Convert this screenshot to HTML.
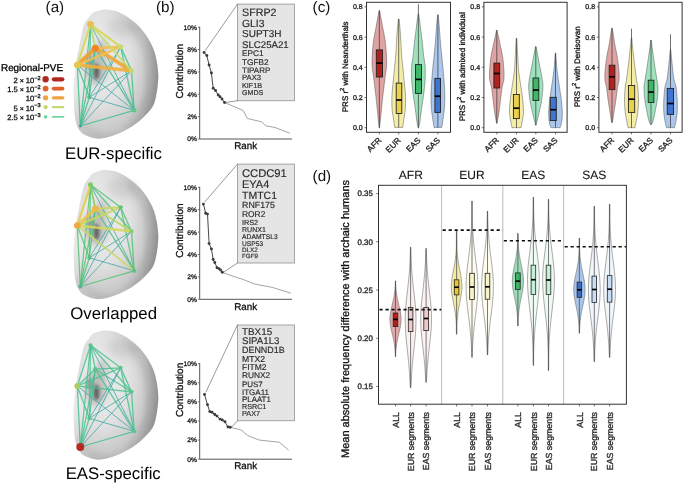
<!DOCTYPE html>
<html><head><meta charset="utf-8"><style>
html,body{margin:0;padding:0;background:#fff;}
svg{display:block;font-family:"Liberation Sans", sans-serif;}
</style></head><body>
<svg width="685" height="484" viewBox="0 0 685 484" text-rendering="geometricPrecision" style="will-change:transform">
<rect width="685" height="484" fill="#fff"/>
<text x="45.60" y="11.70" font-size="15.2" text-anchor="start" fill="#111" >(a)</text>
<text x="156.00" y="11.70" font-size="15.2" text-anchor="start" fill="#111" >(b)</text>
<text x="312.60" y="11.70" font-size="15.2" text-anchor="start" fill="#111" >(c)</text>
<text x="312.60" y="180.60" font-size="15.2" text-anchor="start" fill="#111" >(d)</text>
<defs><radialGradient id="bgrad" cx="0.32" cy="0.4" fx="0.3" fy="0.36" r="0.8"><stop offset="0" stop-color="#eeeeee"/><stop offset="0.45" stop-color="#e1e1e1"/><stop offset="0.7" stop-color="#c9c9c9"/><stop offset="0.86" stop-color="#adadad"/><stop offset="1" stop-color="#9a9a9a"/></radialGradient><linearGradient id="bgrad2" x1="0" y1="0" x2="1" y2="0"><stop offset="0" stop-color="#fff" stop-opacity="0.25"/><stop offset="0.25" stop-color="#fff" stop-opacity="0"/><stop offset="0.8" stop-color="#000" stop-opacity="0"/><stop offset="1" stop-color="#000" stop-opacity="0.12"/></linearGradient><filter id="blur2" x="-1" y="-1" width="3" height="3"><feGaussianBlur stdDeviation="1.6"/></filter><filter id="blur3" x="-1" y="-1" width="3" height="3"><feGaussianBlur stdDeviation="3"/></filter><filter id="blur5" x="-1" y="-1" width="3" height="3"><feGaussianBlur stdDeviation="5"/></filter><clipPath id="bclip"><path d="M88.5,17.9 C89.23,17.05 90.93,14.08 92.90,12.80 C94.87,11.52 98.10,10.73 100.30,10.20 C102.50,9.67 103.42,9.42 106.10,9.60 C108.78,9.78 112.97,10.15 116.40,11.30 C119.83,12.45 123.28,14.30 126.70,16.50 C130.12,18.70 133.73,21.45 136.90,24.50 C140.07,27.55 143.02,30.88 145.70,34.80 C148.38,38.72 151.17,43.60 153.00,48.00 C154.83,52.40 155.83,56.80 156.70,61.20 C157.57,65.60 158.00,70.77 158.20,74.40 C158.40,78.03 158.22,79.65 157.90,83.00 C157.58,86.35 157.17,90.57 156.30,94.50 C155.43,98.43 155.05,102.62 152.70,106.60 C150.35,110.58 146.15,114.80 142.20,118.40 C138.25,122.00 133.37,125.53 129.00,128.20 C124.63,130.87 120.37,132.72 116.00,134.40 C111.63,136.08 106.53,137.68 102.80,138.30 C99.07,138.92 96.73,138.72 93.60,138.10 C90.47,137.48 86.52,136.12 84.00,134.60 C81.48,133.08 79.87,131.18 78.50,129.00 C77.13,126.82 76.48,124.33 75.80,121.50 C75.12,118.67 74.72,115.70 74.40,112.00 C74.08,108.30 73.98,103.85 73.90,99.30 C73.82,94.75 73.67,89.58 73.90,84.70 C74.13,79.82 74.87,74.12 75.30,70.00 C75.73,65.88 75.88,63.67 76.50,60.00 C77.12,56.33 78.10,52.45 79.00,48.00 C79.90,43.55 80.92,37.45 81.90,33.30 C82.88,29.15 83.80,25.67 84.90,23.10 C86.00,20.53 87.90,18.77 88.50,17.90 Z"/></clipPath></defs>
<g transform="translate(0,0)">
<path d="M88.5,17.9 C89.23,17.05 90.93,14.08 92.90,12.80 C94.87,11.52 98.10,10.73 100.30,10.20 C102.50,9.67 103.42,9.42 106.10,9.60 C108.78,9.78 112.97,10.15 116.40,11.30 C119.83,12.45 123.28,14.30 126.70,16.50 C130.12,18.70 133.73,21.45 136.90,24.50 C140.07,27.55 143.02,30.88 145.70,34.80 C148.38,38.72 151.17,43.60 153.00,48.00 C154.83,52.40 155.83,56.80 156.70,61.20 C157.57,65.60 158.00,70.77 158.20,74.40 C158.40,78.03 158.22,79.65 157.90,83.00 C157.58,86.35 157.17,90.57 156.30,94.50 C155.43,98.43 155.05,102.62 152.70,106.60 C150.35,110.58 146.15,114.80 142.20,118.40 C138.25,122.00 133.37,125.53 129.00,128.20 C124.63,130.87 120.37,132.72 116.00,134.40 C111.63,136.08 106.53,137.68 102.80,138.30 C99.07,138.92 96.73,138.72 93.60,138.10 C90.47,137.48 86.52,136.12 84.00,134.60 C81.48,133.08 79.87,131.18 78.50,129.00 C77.13,126.82 76.48,124.33 75.80,121.50 C75.12,118.67 74.72,115.70 74.40,112.00 C74.08,108.30 73.98,103.85 73.90,99.30 C73.82,94.75 73.67,89.58 73.90,84.70 C74.13,79.82 74.87,74.12 75.30,70.00 C75.73,65.88 75.88,63.67 76.50,60.00 C77.12,56.33 78.10,52.45 79.00,48.00 C79.90,43.55 80.92,37.45 81.90,33.30 C82.88,29.15 83.80,25.67 84.90,23.10 C86.00,20.53 87.90,18.77 88.50,17.90 Z" fill="url(#bgrad)"/>
<path d="M88.5,17.9 C89.23,17.05 90.93,14.08 92.90,12.80 C94.87,11.52 98.10,10.73 100.30,10.20 C102.50,9.67 103.42,9.42 106.10,9.60 C108.78,9.78 112.97,10.15 116.40,11.30 C119.83,12.45 123.28,14.30 126.70,16.50 C130.12,18.70 133.73,21.45 136.90,24.50 C140.07,27.55 143.02,30.88 145.70,34.80 C148.38,38.72 151.17,43.60 153.00,48.00 C154.83,52.40 155.83,56.80 156.70,61.20 C157.57,65.60 158.00,70.77 158.20,74.40 C158.40,78.03 158.22,79.65 157.90,83.00 C157.58,86.35 157.17,90.57 156.30,94.50 C155.43,98.43 155.05,102.62 152.70,106.60 C150.35,110.58 146.15,114.80 142.20,118.40 C138.25,122.00 133.37,125.53 129.00,128.20 C124.63,130.87 120.37,132.72 116.00,134.40 C111.63,136.08 106.53,137.68 102.80,138.30 C99.07,138.92 96.73,138.72 93.60,138.10 C90.47,137.48 86.52,136.12 84.00,134.60 C81.48,133.08 79.87,131.18 78.50,129.00 C77.13,126.82 76.48,124.33 75.80,121.50 C75.12,118.67 74.72,115.70 74.40,112.00 C74.08,108.30 73.98,103.85 73.90,99.30 C73.82,94.75 73.67,89.58 73.90,84.70 C74.13,79.82 74.87,74.12 75.30,70.00 C75.73,65.88 75.88,63.67 76.50,60.00 C77.12,56.33 78.10,52.45 79.00,48.00 C79.90,43.55 80.92,37.45 81.90,33.30 C82.88,29.15 83.80,25.67 84.90,23.10 C86.00,20.53 87.90,18.77 88.50,17.90 Z" fill="url(#bgrad2)"/>
<g clip-path="url(#bclip)">
<ellipse cx="124" cy="26" rx="16" ry="11" fill="#8a8a8a" opacity="0.22" filter="url(#blur5)"/>
<path d="M140,20 Q160,45 160,78 Q158,110 130,134" fill="none" stroke="#7a7a7a" stroke-width="9" opacity="0.35" filter="url(#blur5)"/>
<path d="M78,118 Q90,140 118,138" fill="none" stroke="#8a8a8a" stroke-width="5" opacity="0.25" filter="url(#blur3)"/>
<path d="M86,20 Q78,40 77,60" fill="none" stroke="#9a9a9a" stroke-width="4" opacity="0.3" filter="url(#blur3)"/>
</g>
<ellipse cx="96" cy="67" rx="11" ry="17" fill="#858585" opacity="0.45" filter="url(#blur3)"/>
<ellipse cx="96.5" cy="71.5" rx="3.0" ry="8" fill="#505050" opacity="0.8" filter="url(#blur2)"/>
<ellipse cx="90" cy="63" rx="4" ry="6" fill="#777" opacity="0.45" filter="url(#blur2)"/>
<ellipse cx="102" cy="48" rx="6" ry="9" fill="#888" opacity="0.38" filter="url(#blur3)"/>
<path d="M128,22 Q146,40 150,70 Q150,95 140,112" fill="none" stroke="#999" stroke-width="5" opacity="0.35" filter="url(#blur3)"/>
<line x1="90.5" y1="24.3" x2="89.3" y2="97.3" stroke="#3fc08a" stroke-width="1.3" opacity="0.82"/>
<line x1="90.5" y1="24.3" x2="134.2" y2="110.3" stroke="#3fa8a4" stroke-width="1.0" opacity="0.8"/>
<line x1="90.5" y1="24.3" x2="80.3" y2="126" stroke="#3fc08a" stroke-width="1.3" opacity="0.82"/>
<line x1="95.3" y1="48.2" x2="89.3" y2="97.3" stroke="#3fc08a" stroke-width="1.3" opacity="0.82"/>
<line x1="95.3" y1="48.2" x2="134.2" y2="110.3" stroke="#3fc08a" stroke-width="1.3" opacity="0.82"/>
<line x1="95.3" y1="48.2" x2="80.3" y2="126" stroke="#3fc08a" stroke-width="1.3" opacity="0.82"/>
<line x1="120.7" y1="46.8" x2="131.5" y2="70.8" stroke="#3fc08a" stroke-width="1.3" opacity="0.82"/>
<line x1="120.7" y1="46.8" x2="89.3" y2="97.3" stroke="#3fa8a4" stroke-width="1.0" opacity="0.8"/>
<line x1="120.7" y1="46.8" x2="134.2" y2="110.3" stroke="#3fc08a" stroke-width="1.3" opacity="0.82"/>
<line x1="120.7" y1="46.8" x2="80.3" y2="126" stroke="#3fa8a4" stroke-width="1.0" opacity="0.8"/>
<line x1="77.3" y1="65" x2="89.3" y2="97.3" stroke="#3fc08a" stroke-width="1.3" opacity="0.82"/>
<line x1="77.3" y1="65" x2="134.2" y2="110.3" stroke="#3fa8a4" stroke-width="1.0" opacity="0.8"/>
<line x1="77.3" y1="65" x2="80.3" y2="126" stroke="#3fc08a" stroke-width="1.3" opacity="0.82"/>
<line x1="131.5" y1="70.8" x2="89.3" y2="97.3" stroke="#3fa8a4" stroke-width="1.0" opacity="0.8"/>
<line x1="131.5" y1="70.8" x2="134.2" y2="110.3" stroke="#3fc08a" stroke-width="1.3" opacity="0.82"/>
<line x1="131.5" y1="70.8" x2="80.3" y2="126" stroke="#3fa8a4" stroke-width="1.0" opacity="0.8"/>
<line x1="89.3" y1="97.3" x2="134.2" y2="110.3" stroke="#3fa8a4" stroke-width="1.0" opacity="0.8"/>
<line x1="89.3" y1="97.3" x2="80.3" y2="126" stroke="#3fc08a" stroke-width="1.3" opacity="0.82"/>
<line x1="134.2" y1="110.3" x2="80.3" y2="126" stroke="#3fc08a" stroke-width="1.3" opacity="0.82"/>
<line x1="95.3" y1="48.2" x2="77.3" y2="65" stroke="#f0a030" stroke-width="4.0" stroke-linecap="round" opacity="0.9"/>
<line x1="95.3" y1="48.2" x2="131.5" y2="70.8" stroke="#f0a838" stroke-width="3.8" stroke-linecap="round" opacity="0.9"/>
<line x1="77.3" y1="65" x2="131.5" y2="70.8" stroke="#f0b040" stroke-width="3.4" stroke-linecap="round" opacity="0.9"/>
<line x1="95.3" y1="48.2" x2="120.7" y2="46.8" stroke="#f2be48" stroke-width="2.8" stroke-linecap="round" opacity="0.9"/>
<line x1="120.7" y1="46.8" x2="77.3" y2="65" stroke="#f0c050" stroke-width="2.4" stroke-linecap="round" opacity="0.9"/>
<line x1="90.5" y1="24.3" x2="77.3" y2="65" stroke="#d8d858" stroke-width="2.2" stroke-linecap="round" opacity="0.9"/>
<line x1="90.5" y1="24.3" x2="120.7" y2="46.8" stroke="#d8d858" stroke-width="2.2" stroke-linecap="round" opacity="0.9"/>
<line x1="90.5" y1="24.3" x2="95.3" y2="48.2" stroke="#bcd870" stroke-width="1.8" stroke-linecap="round" opacity="0.9"/>
<line x1="90.5" y1="24.3" x2="131.5" y2="70.8" stroke="#c8dc68" stroke-width="1.8" stroke-linecap="round" opacity="0.9"/>
<circle cx="90.5" cy="24.3" r="3.3" fill="#e8c050"/>
<circle cx="95.3" cy="48.2" r="3.5" fill="#f08228"/>
<circle cx="120.7" cy="46.8" r="2.6" fill="#c8d878"/>
<circle cx="77.3" cy="65" r="3.3" fill="#e6c64c"/>
<circle cx="131.5" cy="70.8" r="2.6" fill="#c4d870"/>
<circle cx="89.3" cy="97.3" r="2.0" fill="#52bb84"/>
<circle cx="134.2" cy="110.3" r="2.3" fill="#5cc888"/>
<circle cx="80.3" cy="126" r="1.6" fill="#44a8a0"/>
</g>
<g transform="translate(0,160.5)">
<path d="M88.5,17.9 C89.23,17.05 90.93,14.08 92.90,12.80 C94.87,11.52 98.10,10.73 100.30,10.20 C102.50,9.67 103.42,9.42 106.10,9.60 C108.78,9.78 112.97,10.15 116.40,11.30 C119.83,12.45 123.28,14.30 126.70,16.50 C130.12,18.70 133.73,21.45 136.90,24.50 C140.07,27.55 143.02,30.88 145.70,34.80 C148.38,38.72 151.17,43.60 153.00,48.00 C154.83,52.40 155.83,56.80 156.70,61.20 C157.57,65.60 158.00,70.77 158.20,74.40 C158.40,78.03 158.22,79.65 157.90,83.00 C157.58,86.35 157.17,90.57 156.30,94.50 C155.43,98.43 155.05,102.62 152.70,106.60 C150.35,110.58 146.15,114.80 142.20,118.40 C138.25,122.00 133.37,125.53 129.00,128.20 C124.63,130.87 120.37,132.72 116.00,134.40 C111.63,136.08 106.53,137.68 102.80,138.30 C99.07,138.92 96.73,138.72 93.60,138.10 C90.47,137.48 86.52,136.12 84.00,134.60 C81.48,133.08 79.87,131.18 78.50,129.00 C77.13,126.82 76.48,124.33 75.80,121.50 C75.12,118.67 74.72,115.70 74.40,112.00 C74.08,108.30 73.98,103.85 73.90,99.30 C73.82,94.75 73.67,89.58 73.90,84.70 C74.13,79.82 74.87,74.12 75.30,70.00 C75.73,65.88 75.88,63.67 76.50,60.00 C77.12,56.33 78.10,52.45 79.00,48.00 C79.90,43.55 80.92,37.45 81.90,33.30 C82.88,29.15 83.80,25.67 84.90,23.10 C86.00,20.53 87.90,18.77 88.50,17.90 Z" fill="url(#bgrad)"/>
<path d="M88.5,17.9 C89.23,17.05 90.93,14.08 92.90,12.80 C94.87,11.52 98.10,10.73 100.30,10.20 C102.50,9.67 103.42,9.42 106.10,9.60 C108.78,9.78 112.97,10.15 116.40,11.30 C119.83,12.45 123.28,14.30 126.70,16.50 C130.12,18.70 133.73,21.45 136.90,24.50 C140.07,27.55 143.02,30.88 145.70,34.80 C148.38,38.72 151.17,43.60 153.00,48.00 C154.83,52.40 155.83,56.80 156.70,61.20 C157.57,65.60 158.00,70.77 158.20,74.40 C158.40,78.03 158.22,79.65 157.90,83.00 C157.58,86.35 157.17,90.57 156.30,94.50 C155.43,98.43 155.05,102.62 152.70,106.60 C150.35,110.58 146.15,114.80 142.20,118.40 C138.25,122.00 133.37,125.53 129.00,128.20 C124.63,130.87 120.37,132.72 116.00,134.40 C111.63,136.08 106.53,137.68 102.80,138.30 C99.07,138.92 96.73,138.72 93.60,138.10 C90.47,137.48 86.52,136.12 84.00,134.60 C81.48,133.08 79.87,131.18 78.50,129.00 C77.13,126.82 76.48,124.33 75.80,121.50 C75.12,118.67 74.72,115.70 74.40,112.00 C74.08,108.30 73.98,103.85 73.90,99.30 C73.82,94.75 73.67,89.58 73.90,84.70 C74.13,79.82 74.87,74.12 75.30,70.00 C75.73,65.88 75.88,63.67 76.50,60.00 C77.12,56.33 78.10,52.45 79.00,48.00 C79.90,43.55 80.92,37.45 81.90,33.30 C82.88,29.15 83.80,25.67 84.90,23.10 C86.00,20.53 87.90,18.77 88.50,17.90 Z" fill="url(#bgrad2)"/>
<g clip-path="url(#bclip)">
<ellipse cx="124" cy="26" rx="16" ry="11" fill="#8a8a8a" opacity="0.22" filter="url(#blur5)"/>
<path d="M140,20 Q160,45 160,78 Q158,110 130,134" fill="none" stroke="#7a7a7a" stroke-width="9" opacity="0.35" filter="url(#blur5)"/>
<path d="M78,118 Q90,140 118,138" fill="none" stroke="#8a8a8a" stroke-width="5" opacity="0.25" filter="url(#blur3)"/>
<path d="M86,20 Q78,40 77,60" fill="none" stroke="#9a9a9a" stroke-width="4" opacity="0.3" filter="url(#blur3)"/>
</g>
<ellipse cx="96" cy="67" rx="11" ry="17" fill="#858585" opacity="0.45" filter="url(#blur3)"/>
<ellipse cx="96.5" cy="71.5" rx="3.0" ry="8" fill="#505050" opacity="0.8" filter="url(#blur2)"/>
<ellipse cx="90" cy="63" rx="4" ry="6" fill="#777" opacity="0.45" filter="url(#blur2)"/>
<ellipse cx="102" cy="48" rx="6" ry="9" fill="#888" opacity="0.38" filter="url(#blur3)"/>
<path d="M128,22 Q146,40 150,70 Q150,95 140,112" fill="none" stroke="#999" stroke-width="5" opacity="0.35" filter="url(#blur3)"/>
<line x1="90.5" y1="24.3" x2="120.7" y2="46.8" stroke="#52c276" stroke-width="1.3" opacity="0.82"/>
<line x1="90.5" y1="24.3" x2="131.5" y2="70.8" stroke="#52c276" stroke-width="1.3" opacity="0.82"/>
<line x1="90.5" y1="24.3" x2="89.3" y2="97.3" stroke="#52c276" stroke-width="1.3" opacity="0.82"/>
<line x1="90.5" y1="24.3" x2="134.2" y2="110.3" stroke="#3fa8a4" stroke-width="1.0" opacity="0.8"/>
<line x1="90.5" y1="24.3" x2="80.3" y2="126" stroke="#52c276" stroke-width="1.3" opacity="0.82"/>
<line x1="95.3" y1="48.2" x2="89.3" y2="97.3" stroke="#52c276" stroke-width="1.3" opacity="0.82"/>
<line x1="95.3" y1="48.2" x2="134.2" y2="110.3" stroke="#52c276" stroke-width="1.3" opacity="0.82"/>
<line x1="95.3" y1="48.2" x2="80.3" y2="126" stroke="#52c276" stroke-width="1.3" opacity="0.82"/>
<line x1="120.7" y1="46.8" x2="131.5" y2="70.8" stroke="#52c276" stroke-width="1.3" opacity="0.82"/>
<line x1="120.7" y1="46.8" x2="89.3" y2="97.3" stroke="#3fa8a4" stroke-width="1.0" opacity="0.8"/>
<line x1="120.7" y1="46.8" x2="134.2" y2="110.3" stroke="#52c276" stroke-width="1.3" opacity="0.82"/>
<line x1="120.7" y1="46.8" x2="80.3" y2="126" stroke="#3fa8a4" stroke-width="1.0" opacity="0.8"/>
<line x1="77.3" y1="65" x2="89.3" y2="97.3" stroke="#52c276" stroke-width="1.3" opacity="0.82"/>
<line x1="77.3" y1="65" x2="80.3" y2="126" stroke="#52c276" stroke-width="1.3" opacity="0.82"/>
<line x1="131.5" y1="70.8" x2="89.3" y2="97.3" stroke="#3fa8a4" stroke-width="1.0" opacity="0.8"/>
<line x1="131.5" y1="70.8" x2="134.2" y2="110.3" stroke="#52c276" stroke-width="1.3" opacity="0.82"/>
<line x1="131.5" y1="70.8" x2="80.3" y2="126" stroke="#3fa8a4" stroke-width="1.0" opacity="0.8"/>
<line x1="89.3" y1="97.3" x2="134.2" y2="110.3" stroke="#3fa8a4" stroke-width="1.0" opacity="0.8"/>
<line x1="89.3" y1="97.3" x2="80.3" y2="126" stroke="#52c276" stroke-width="1.3" opacity="0.82"/>
<line x1="134.2" y1="110.3" x2="80.3" y2="126" stroke="#52c276" stroke-width="1.3" opacity="0.82"/>
<line x1="90.5" y1="24.3" x2="77.3" y2="65" stroke="#e2d04e" stroke-width="2.4" stroke-linecap="round" opacity="0.9"/>
<line x1="95.3" y1="48.2" x2="77.3" y2="65" stroke="#eec24a" stroke-width="3.0" stroke-linecap="round" opacity="0.9"/>
<line x1="95.3" y1="48.2" x2="120.7" y2="46.8" stroke="#c8d860" stroke-width="2.0" stroke-linecap="round" opacity="0.9"/>
<line x1="120.7" y1="46.8" x2="77.3" y2="65" stroke="#c8d860" stroke-width="1.9" stroke-linecap="round" opacity="0.9"/>
<line x1="77.3" y1="65" x2="131.5" y2="70.8" stroke="#d8d858" stroke-width="2.3" stroke-linecap="round" opacity="0.9"/>
<line x1="95.3" y1="48.2" x2="131.5" y2="70.8" stroke="#c0d860" stroke-width="1.9" stroke-linecap="round" opacity="0.9"/>
<line x1="90.5" y1="24.3" x2="95.3" y2="48.2" stroke="#80c860" stroke-width="1.7" stroke-linecap="round" opacity="0.9"/>
<line x1="77.3" y1="65" x2="134.2" y2="110.3" stroke="#c8d860" stroke-width="1.6" stroke-linecap="round" opacity="0.9"/>
<circle cx="90.5" cy="24.3" r="2.5" fill="#80c860"/>
<circle cx="95.3" cy="48.2" r="3.3" fill="#f0b848"/>
<circle cx="120.7" cy="46.8" r="2.1" fill="#60c484"/>
<circle cx="77.3" cy="65" r="3.3" fill="#eeaa40"/>
<circle cx="131.5" cy="70.8" r="2.1" fill="#8ccc70"/>
<circle cx="89.3" cy="97.3" r="2.1" fill="#58c084"/>
<circle cx="134.2" cy="110.3" r="2.1" fill="#5cc488"/>
<circle cx="80.3" cy="126" r="2.0" fill="#50b890"/>
</g>
<g transform="translate(0,321)">
<path d="M88.5,17.9 C89.23,17.05 90.93,14.08 92.90,12.80 C94.87,11.52 98.10,10.73 100.30,10.20 C102.50,9.67 103.42,9.42 106.10,9.60 C108.78,9.78 112.97,10.15 116.40,11.30 C119.83,12.45 123.28,14.30 126.70,16.50 C130.12,18.70 133.73,21.45 136.90,24.50 C140.07,27.55 143.02,30.88 145.70,34.80 C148.38,38.72 151.17,43.60 153.00,48.00 C154.83,52.40 155.83,56.80 156.70,61.20 C157.57,65.60 158.00,70.77 158.20,74.40 C158.40,78.03 158.22,79.65 157.90,83.00 C157.58,86.35 157.17,90.57 156.30,94.50 C155.43,98.43 155.05,102.62 152.70,106.60 C150.35,110.58 146.15,114.80 142.20,118.40 C138.25,122.00 133.37,125.53 129.00,128.20 C124.63,130.87 120.37,132.72 116.00,134.40 C111.63,136.08 106.53,137.68 102.80,138.30 C99.07,138.92 96.73,138.72 93.60,138.10 C90.47,137.48 86.52,136.12 84.00,134.60 C81.48,133.08 79.87,131.18 78.50,129.00 C77.13,126.82 76.48,124.33 75.80,121.50 C75.12,118.67 74.72,115.70 74.40,112.00 C74.08,108.30 73.98,103.85 73.90,99.30 C73.82,94.75 73.67,89.58 73.90,84.70 C74.13,79.82 74.87,74.12 75.30,70.00 C75.73,65.88 75.88,63.67 76.50,60.00 C77.12,56.33 78.10,52.45 79.00,48.00 C79.90,43.55 80.92,37.45 81.90,33.30 C82.88,29.15 83.80,25.67 84.90,23.10 C86.00,20.53 87.90,18.77 88.50,17.90 Z" fill="url(#bgrad)"/>
<path d="M88.5,17.9 C89.23,17.05 90.93,14.08 92.90,12.80 C94.87,11.52 98.10,10.73 100.30,10.20 C102.50,9.67 103.42,9.42 106.10,9.60 C108.78,9.78 112.97,10.15 116.40,11.30 C119.83,12.45 123.28,14.30 126.70,16.50 C130.12,18.70 133.73,21.45 136.90,24.50 C140.07,27.55 143.02,30.88 145.70,34.80 C148.38,38.72 151.17,43.60 153.00,48.00 C154.83,52.40 155.83,56.80 156.70,61.20 C157.57,65.60 158.00,70.77 158.20,74.40 C158.40,78.03 158.22,79.65 157.90,83.00 C157.58,86.35 157.17,90.57 156.30,94.50 C155.43,98.43 155.05,102.62 152.70,106.60 C150.35,110.58 146.15,114.80 142.20,118.40 C138.25,122.00 133.37,125.53 129.00,128.20 C124.63,130.87 120.37,132.72 116.00,134.40 C111.63,136.08 106.53,137.68 102.80,138.30 C99.07,138.92 96.73,138.72 93.60,138.10 C90.47,137.48 86.52,136.12 84.00,134.60 C81.48,133.08 79.87,131.18 78.50,129.00 C77.13,126.82 76.48,124.33 75.80,121.50 C75.12,118.67 74.72,115.70 74.40,112.00 C74.08,108.30 73.98,103.85 73.90,99.30 C73.82,94.75 73.67,89.58 73.90,84.70 C74.13,79.82 74.87,74.12 75.30,70.00 C75.73,65.88 75.88,63.67 76.50,60.00 C77.12,56.33 78.10,52.45 79.00,48.00 C79.90,43.55 80.92,37.45 81.90,33.30 C82.88,29.15 83.80,25.67 84.90,23.10 C86.00,20.53 87.90,18.77 88.50,17.90 Z" fill="url(#bgrad2)"/>
<g clip-path="url(#bclip)">
<ellipse cx="124" cy="26" rx="16" ry="11" fill="#8a8a8a" opacity="0.22" filter="url(#blur5)"/>
<path d="M140,20 Q160,45 160,78 Q158,110 130,134" fill="none" stroke="#7a7a7a" stroke-width="9" opacity="0.35" filter="url(#blur5)"/>
<path d="M78,118 Q90,140 118,138" fill="none" stroke="#8a8a8a" stroke-width="5" opacity="0.25" filter="url(#blur3)"/>
<path d="M86,20 Q78,40 77,60" fill="none" stroke="#9a9a9a" stroke-width="4" opacity="0.3" filter="url(#blur3)"/>
</g>
<ellipse cx="96" cy="67" rx="11" ry="17" fill="#858585" opacity="0.45" filter="url(#blur3)"/>
<ellipse cx="96.5" cy="71.5" rx="3.0" ry="8" fill="#505050" opacity="0.8" filter="url(#blur2)"/>
<ellipse cx="90" cy="63" rx="4" ry="6" fill="#777" opacity="0.45" filter="url(#blur2)"/>
<ellipse cx="102" cy="48" rx="6" ry="9" fill="#888" opacity="0.38" filter="url(#blur3)"/>
<path d="M128,22 Q146,40 150,70 Q150,95 140,112" fill="none" stroke="#999" stroke-width="5" opacity="0.35" filter="url(#blur3)"/>
<line x1="90.5" y1="24.3" x2="95.3" y2="48.2" stroke="#44c28e" stroke-width="1.3" opacity="0.82"/>
<line x1="90.5" y1="24.3" x2="120.7" y2="46.8" stroke="#44c28e" stroke-width="1.3" opacity="0.82"/>
<line x1="90.5" y1="24.3" x2="77.3" y2="65" stroke="#44c28e" stroke-width="1.3" opacity="0.82"/>
<line x1="90.5" y1="24.3" x2="131.5" y2="70.8" stroke="#44c28e" stroke-width="1.3" opacity="0.82"/>
<line x1="90.5" y1="24.3" x2="89.3" y2="97.3" stroke="#44c28e" stroke-width="1.3" opacity="0.82"/>
<line x1="90.5" y1="24.3" x2="134.2" y2="110.3" stroke="#3fa8a4" stroke-width="1.0" opacity="0.8"/>
<line x1="90.5" y1="24.3" x2="80.3" y2="126" stroke="#44c28e" stroke-width="1.3" opacity="0.82"/>
<line x1="95.3" y1="48.2" x2="120.7" y2="46.8" stroke="#44c28e" stroke-width="1.3" opacity="0.82"/>
<line x1="95.3" y1="48.2" x2="77.3" y2="65" stroke="#44c28e" stroke-width="1.3" opacity="0.82"/>
<line x1="95.3" y1="48.2" x2="131.5" y2="70.8" stroke="#44c28e" stroke-width="1.3" opacity="0.82"/>
<line x1="95.3" y1="48.2" x2="89.3" y2="97.3" stroke="#44c28e" stroke-width="1.3" opacity="0.82"/>
<line x1="95.3" y1="48.2" x2="134.2" y2="110.3" stroke="#44c28e" stroke-width="1.3" opacity="0.82"/>
<line x1="95.3" y1="48.2" x2="80.3" y2="126" stroke="#44c28e" stroke-width="1.3" opacity="0.82"/>
<line x1="120.7" y1="46.8" x2="77.3" y2="65" stroke="#44c28e" stroke-width="1.3" opacity="0.82"/>
<line x1="120.7" y1="46.8" x2="131.5" y2="70.8" stroke="#44c28e" stroke-width="1.3" opacity="0.82"/>
<line x1="120.7" y1="46.8" x2="89.3" y2="97.3" stroke="#3fa8a4" stroke-width="1.0" opacity="0.8"/>
<line x1="120.7" y1="46.8" x2="134.2" y2="110.3" stroke="#44c28e" stroke-width="1.3" opacity="0.82"/>
<line x1="120.7" y1="46.8" x2="80.3" y2="126" stroke="#3fa8a4" stroke-width="1.0" opacity="0.8"/>
<line x1="77.3" y1="65" x2="131.5" y2="70.8" stroke="#44c28e" stroke-width="1.3" opacity="0.82"/>
<line x1="77.3" y1="65" x2="89.3" y2="97.3" stroke="#44c28e" stroke-width="1.3" opacity="0.82"/>
<line x1="77.3" y1="65" x2="134.2" y2="110.3" stroke="#3fa8a4" stroke-width="1.0" opacity="0.8"/>
<line x1="77.3" y1="65" x2="80.3" y2="126" stroke="#44c28e" stroke-width="1.3" opacity="0.82"/>
<line x1="131.5" y1="70.8" x2="89.3" y2="97.3" stroke="#3fa8a4" stroke-width="1.0" opacity="0.8"/>
<line x1="131.5" y1="70.8" x2="134.2" y2="110.3" stroke="#44c28e" stroke-width="1.3" opacity="0.82"/>
<line x1="131.5" y1="70.8" x2="80.3" y2="126" stroke="#3fa8a4" stroke-width="1.0" opacity="0.8"/>
<line x1="89.3" y1="97.3" x2="134.2" y2="110.3" stroke="#3fa8a4" stroke-width="1.0" opacity="0.8"/>
<line x1="89.3" y1="97.3" x2="80.3" y2="126" stroke="#44c28e" stroke-width="1.3" opacity="0.82"/>
<line x1="134.2" y1="110.3" x2="80.3" y2="126" stroke="#44c28e" stroke-width="1.3" opacity="0.82"/>
<circle cx="90.5" cy="24.3" r="2.1" fill="#5cc488"/>
<circle cx="95.3" cy="48.2" r="2.1" fill="#5cc488"/>
<circle cx="120.7" cy="46.8" r="2.0" fill="#5cc488"/>
<circle cx="77.3" cy="65" r="3.0" fill="#b0cc60"/>
<circle cx="131.5" cy="70.8" r="2.1" fill="#5cc488"/>
<circle cx="89.3" cy="97.3" r="2.0" fill="#5cc488"/>
<circle cx="134.2" cy="110.3" r="2.1" fill="#5cc488"/>
<circle cx="80.3" cy="126" r="4.0" fill="#b42a22"/>
</g>
<text x="113.50" y="159.10" font-size="16.8" text-anchor="middle" fill="#000" >EUR-specific</text>
<text x="113.60" y="318.80" font-size="16.8" text-anchor="middle" fill="#000" >Overlapped</text>
<text x="113.20" y="479.40" font-size="16.8" text-anchor="middle" fill="#000" >EAS-specific</text>
<text x="1.00" y="70.90" font-size="9.9" text-anchor="start" fill="#000" stroke="#000" stroke-width="0.3" >Regional-PVE</text>
<text x="40.60" y="82.70" font-size="7.6" text-anchor="end" fill="#111" stroke="#111" stroke-width="0.3" >2<tspan font-size="7"> × </tspan>10<tspan dy="-3.2" font-size="5.6">−2</tspan></text>
<circle cx="45.6" cy="79.3" r="3.2" fill="#b0281f"/>
<line x1="53.949999999999996" y1="79.3" x2="62.25000000000001" y2="79.3" stroke="#b0281f" stroke-width="4.3" stroke-linecap="round"/>
<text x="40.60" y="92.00" font-size="7.6" text-anchor="end" fill="#111" stroke="#111" stroke-width="0.3" >1.5<tspan font-size="7"> × </tspan>10<tspan dy="-3.2" font-size="5.6">−2</tspan></text>
<circle cx="45.6" cy="88.6" r="2.9" fill="#e0622c"/>
<line x1="53.65" y1="88.6" x2="62.550000000000004" y2="88.6" stroke="#e0622c" stroke-width="3.7" stroke-linecap="round"/>
<text x="40.60" y="101.20" font-size="7.6" text-anchor="end" fill="#111" stroke="#111" stroke-width="0.3" >10<tspan dy="-3.2" font-size="5.6">−2</tspan></text>
<circle cx="45.6" cy="97.8" r="2.6" fill="#eea444"/>
<line x1="53.4" y1="97.8" x2="62.800000000000004" y2="97.8" stroke="#eea444" stroke-width="3.2" stroke-linecap="round"/>
<text x="40.60" y="110.50" font-size="7.6" text-anchor="end" fill="#111" stroke="#111" stroke-width="0.3" >5<tspan font-size="7"> × </tspan>10<tspan dy="-3.2" font-size="5.6">−3</tspan></text>
<circle cx="45.6" cy="107.1" r="2.2" fill="#bfd874"/>
<line x1="52.949999999999996" y1="107.1" x2="63.25000000000001" y2="107.1" stroke="#bfd874" stroke-width="2.3" stroke-linecap="round"/>
<text x="40.60" y="120.30" font-size="7.6" text-anchor="end" fill="#111" stroke="#111" stroke-width="0.3" >2.5<tspan font-size="7"> × </tspan>10<tspan dy="-3.2" font-size="5.6">−3</tspan></text>
<circle cx="45.6" cy="116.9" r="1.8" fill="#72d8a2"/>
<line x1="52.599999999999994" y1="116.9" x2="63.60000000000001" y2="116.9" stroke="#72d8a2" stroke-width="1.6" stroke-linecap="round"/>
<line x1="199.7" y1="26.700000000000003" x2="199.7" y2="139.0" stroke="#555" stroke-width="1"/>
<line x1="199.7" y1="139.0" x2="292" y2="139.0" stroke="#555" stroke-width="1"/>
<line x1="197.89999999999998" y1="139.0" x2="199.7" y2="139.0" stroke="#555" stroke-width="0.8"/>
<text x="197.00" y="141.40" font-size="6.7" text-anchor="end" fill="#222" stroke="#222" stroke-width="0.3" >0%</text>
<line x1="197.89999999999998" y1="116.64" x2="199.7" y2="116.64" stroke="#555" stroke-width="0.8"/>
<text x="197.00" y="119.04" font-size="6.7" text-anchor="end" fill="#222" stroke="#222" stroke-width="0.3" >2%</text>
<line x1="197.89999999999998" y1="94.28" x2="199.7" y2="94.28" stroke="#555" stroke-width="0.8"/>
<text x="197.00" y="96.68" font-size="6.7" text-anchor="end" fill="#222" stroke="#222" stroke-width="0.3" >4%</text>
<line x1="197.89999999999998" y1="71.92" x2="199.7" y2="71.92" stroke="#555" stroke-width="0.8"/>
<text x="197.00" y="74.32" font-size="6.7" text-anchor="end" fill="#222" stroke="#222" stroke-width="0.3" >6%</text>
<line x1="197.89999999999998" y1="49.56" x2="199.7" y2="49.56" stroke="#555" stroke-width="0.8"/>
<text x="197.00" y="51.96" font-size="6.7" text-anchor="end" fill="#222" stroke="#222" stroke-width="0.3" >8%</text>
<line x1="197.89999999999998" y1="27.200000000000003" x2="199.7" y2="27.200000000000003" stroke="#555" stroke-width="0.8"/>
<text x="197.00" y="29.60" font-size="6.7" text-anchor="end" fill="#222" stroke="#222" stroke-width="0.3" >10%</text>
<rect x="237.5" y="4.1" width="57.0" height="96.60000000000001" fill="#e4e5e4" stroke="#9c9c9c" stroke-width="0.9"/>
<line x1="237.5" y1="4.1" x2="205.29999999999998" y2="50.5" stroke="#555" stroke-width="0.6"/>
<line x1="237.5" y1="100.7" x2="225.7" y2="102.5" stroke="#555" stroke-width="0.6"/>
<path d="M204.1,52.5 L206.8,55.5 L209.1,65.0 L211.4,73.0 L213.2,88.2 L215.5,90.5 L218.2,95.0 L220.0,96.8 L222.0,99.0 L224.5,102.5" fill="none" stroke="#333" stroke-width="0.9"/>
<path d="M224.5,102.5 L243.2,110.5 L247.3,118.4 L261.4,121.8 L265.9,125.9 L275.0,127.5 L289.8,133.2" fill="none" stroke="#666" stroke-width="0.6"/>
<circle cx="204.1" cy="52.5" r="1.45" fill="#3a3a3a"/>
<circle cx="206.8" cy="55.5" r="1.45" fill="#3a3a3a"/>
<circle cx="209.1" cy="65" r="1.45" fill="#3a3a3a"/>
<circle cx="211.4" cy="73" r="1.45" fill="#3a3a3a"/>
<circle cx="213.2" cy="88.2" r="1.45" fill="#3a3a3a"/>
<circle cx="215.5" cy="90.5" r="1.45" fill="#3a3a3a"/>
<circle cx="218.2" cy="95" r="1.45" fill="#3a3a3a"/>
<circle cx="220" cy="96.8" r="1.45" fill="#3a3a3a"/>
<circle cx="222" cy="99" r="1.45" fill="#3a3a3a"/>
<circle cx="224.5" cy="102.5" r="1.45" fill="#3a3a3a"/>
<text x="242.00" y="15.70" font-size="10.7" text-anchor="start" fill="#2a2a2a" stroke="#2a2a2a" stroke-width="0.15" >SFRP2</text>
<text x="242.00" y="26.60" font-size="10.4" text-anchor="start" fill="#2a2a2a" stroke="#2a2a2a" stroke-width="0.15" >GLI3</text>
<text x="242.00" y="37.20" font-size="10.0" text-anchor="start" fill="#2a2a2a" stroke="#2a2a2a" stroke-width="0.15" >SUPT3H</text>
<text x="242.00" y="47.60" font-size="9.67" text-anchor="start" fill="#2a2a2a" stroke="#2a2a2a" stroke-width="0.15" >SLC25A21</text>
<text x="242.00" y="56.10" font-size="8.22" text-anchor="start" fill="#2a2a2a" stroke="#2a2a2a" stroke-width="0.15" >EPC1</text>
<text x="242.00" y="64.70" font-size="8.22" text-anchor="start" fill="#2a2a2a" stroke="#2a2a2a" stroke-width="0.15" >TGFB2</text>
<text x="242.00" y="72.80" font-size="8.01" text-anchor="start" fill="#2a2a2a" stroke="#2a2a2a" stroke-width="0.15" >TIPARP</text>
<text x="242.00" y="80.30" font-size="7.7" text-anchor="start" fill="#2a2a2a" stroke="#2a2a2a" stroke-width="0.15" >PAX3</text>
<text x="242.00" y="88.00" font-size="7.28" text-anchor="start" fill="#2a2a2a" stroke="#2a2a2a" stroke-width="0.15" >KIF1B</text>
<text x="242.00" y="95.30" font-size="7.07" text-anchor="start" fill="#2a2a2a" stroke="#2a2a2a" stroke-width="0.15" >GMDS</text>
<text x="0.00" y="0.00" font-size="10.1" text-anchor="middle" fill="#111" stroke="#111" stroke-width="0.3" transform="translate(182.6,71.2) rotate(-90)">Contribution</text>
<text x="245.70" y="149.20" font-size="9.8" text-anchor="middle" fill="#111" stroke="#111" stroke-width="0.3" >Rank</text>
<line x1="199.7" y1="186.8" x2="199.7" y2="299.3" stroke="#555" stroke-width="1"/>
<line x1="199.7" y1="299.3" x2="292" y2="299.3" stroke="#555" stroke-width="1"/>
<line x1="197.89999999999998" y1="299.3" x2="199.7" y2="299.3" stroke="#555" stroke-width="0.8"/>
<text x="197.00" y="301.70" font-size="6.7" text-anchor="end" fill="#222" stroke="#222" stroke-width="0.3" >0%</text>
<line x1="197.89999999999998" y1="276.90000000000003" x2="199.7" y2="276.90000000000003" stroke="#555" stroke-width="0.8"/>
<text x="197.00" y="279.30" font-size="6.7" text-anchor="end" fill="#222" stroke="#222" stroke-width="0.3" >2%</text>
<line x1="197.89999999999998" y1="254.5" x2="199.7" y2="254.5" stroke="#555" stroke-width="0.8"/>
<text x="197.00" y="256.90" font-size="6.7" text-anchor="end" fill="#222" stroke="#222" stroke-width="0.3" >4%</text>
<line x1="197.89999999999998" y1="232.10000000000002" x2="199.7" y2="232.10000000000002" stroke="#555" stroke-width="0.8"/>
<text x="197.00" y="234.50" font-size="6.7" text-anchor="end" fill="#222" stroke="#222" stroke-width="0.3" >6%</text>
<line x1="197.89999999999998" y1="209.70000000000002" x2="199.7" y2="209.70000000000002" stroke="#555" stroke-width="0.8"/>
<text x="197.00" y="212.10" font-size="6.7" text-anchor="end" fill="#222" stroke="#222" stroke-width="0.3" >8%</text>
<line x1="197.89999999999998" y1="187.3" x2="199.7" y2="187.3" stroke="#555" stroke-width="0.8"/>
<text x="197.00" y="189.70" font-size="6.7" text-anchor="end" fill="#222" stroke="#222" stroke-width="0.3" >10%</text>
<rect x="237.5" y="164.1" width="57.0" height="98.9" fill="#e4e5e4" stroke="#9c9c9c" stroke-width="0.9"/>
<line x1="237.5" y1="164.1" x2="204.6" y2="202.1" stroke="#555" stroke-width="0.6"/>
<line x1="237.5" y1="263.0" x2="223.5" y2="272.3" stroke="#555" stroke-width="0.6"/>
<path d="M203.4,204.1 L205.7,213.2 L207.5,214.1 L209.1,243.6 L211.4,248.9 L213.2,259.5 L214.8,262.5 L217.0,267.7 L218.9,268.6 L220.5,270.0 L222.3,272.3" fill="none" stroke="#333" stroke-width="0.9"/>
<path d="M222.3,272.3 L229.5,275.0 L243.2,279.5 L254.5,284.0 L272.7,287.5 L290.9,293.2" fill="none" stroke="#666" stroke-width="0.6"/>
<circle cx="203.4" cy="204.1" r="1.45" fill="#3a3a3a"/>
<circle cx="205.7" cy="213.2" r="1.45" fill="#3a3a3a"/>
<circle cx="207.5" cy="214.1" r="1.45" fill="#3a3a3a"/>
<circle cx="209.1" cy="243.6" r="1.45" fill="#3a3a3a"/>
<circle cx="211.4" cy="248.9" r="1.45" fill="#3a3a3a"/>
<circle cx="213.2" cy="259.5" r="1.45" fill="#3a3a3a"/>
<circle cx="214.8" cy="262.5" r="1.45" fill="#3a3a3a"/>
<circle cx="217" cy="267.7" r="1.45" fill="#3a3a3a"/>
<circle cx="218.9" cy="268.6" r="1.45" fill="#3a3a3a"/>
<circle cx="220.5" cy="270" r="1.45" fill="#3a3a3a"/>
<circle cx="222.3" cy="272.3" r="1.45" fill="#3a3a3a"/>
<text x="242.00" y="176.90" font-size="11.2" text-anchor="start" fill="#2a2a2a" stroke="#2a2a2a" stroke-width="0.15" >CCDC91</text>
<text x="242.00" y="187.80" font-size="11.0" text-anchor="start" fill="#2a2a2a" stroke="#2a2a2a" stroke-width="0.15" >EYA4</text>
<text x="242.00" y="199.20" font-size="10.5" text-anchor="start" fill="#2a2a2a" stroke="#2a2a2a" stroke-width="0.15" >TMTC1</text>
<text x="242.00" y="208.10" font-size="8.84" text-anchor="start" fill="#2a2a2a" stroke="#2a2a2a" stroke-width="0.15" >RNF175</text>
<text x="242.00" y="217.20" font-size="8.42" text-anchor="start" fill="#2a2a2a" stroke="#2a2a2a" stroke-width="0.15" >ROR2</text>
<text x="242.00" y="224.80" font-size="7.28" text-anchor="start" fill="#2a2a2a" stroke="#2a2a2a" stroke-width="0.15" >IRS2</text>
<text x="242.00" y="232.10" font-size="7.07" text-anchor="start" fill="#2a2a2a" stroke="#2a2a2a" stroke-width="0.15" >RUNX1</text>
<text x="242.00" y="239.10" font-size="6.76" text-anchor="start" fill="#2a2a2a" stroke="#2a2a2a" stroke-width="0.15" >ADAMTSL3</text>
<text x="242.00" y="245.60" font-size="6.66" text-anchor="start" fill="#2a2a2a" stroke="#2a2a2a" stroke-width="0.15" >USP53</text>
<text x="242.00" y="251.80" font-size="6.34" text-anchor="start" fill="#2a2a2a" stroke="#2a2a2a" stroke-width="0.15" >DLX2</text>
<text x="242.00" y="258.10" font-size="6.24" text-anchor="start" fill="#2a2a2a" stroke="#2a2a2a" stroke-width="0.15" >FGF9</text>
<text x="0.00" y="0.00" font-size="10.1" text-anchor="middle" fill="#111" stroke="#111" stroke-width="0.3" transform="translate(182.6,230.6) rotate(-90)">Contribution</text>
<text x="245.70" y="309.50" font-size="9.8" text-anchor="middle" fill="#111" stroke="#111" stroke-width="0.3" >Rank</text>
<line x1="199.7" y1="363.09999999999997" x2="199.7" y2="459.2" stroke="#555" stroke-width="1"/>
<line x1="199.7" y1="459.2" x2="292" y2="459.2" stroke="#555" stroke-width="1"/>
<line x1="197.89999999999998" y1="459.2" x2="199.7" y2="459.2" stroke="#555" stroke-width="0.8"/>
<text x="197.00" y="461.60" font-size="6.7" text-anchor="end" fill="#222" stroke="#222" stroke-width="0.3" >0%</text>
<line x1="197.89999999999998" y1="440.08" x2="199.7" y2="440.08" stroke="#555" stroke-width="0.8"/>
<text x="197.00" y="442.48" font-size="6.7" text-anchor="end" fill="#222" stroke="#222" stroke-width="0.3" >2%</text>
<line x1="197.89999999999998" y1="420.96" x2="199.7" y2="420.96" stroke="#555" stroke-width="0.8"/>
<text x="197.00" y="423.36" font-size="6.7" text-anchor="end" fill="#222" stroke="#222" stroke-width="0.3" >4%</text>
<line x1="197.89999999999998" y1="401.84" x2="199.7" y2="401.84" stroke="#555" stroke-width="0.8"/>
<text x="197.00" y="404.24" font-size="6.7" text-anchor="end" fill="#222" stroke="#222" stroke-width="0.3" >6%</text>
<line x1="197.89999999999998" y1="382.71999999999997" x2="199.7" y2="382.71999999999997" stroke="#555" stroke-width="0.8"/>
<text x="197.00" y="385.12" font-size="6.7" text-anchor="end" fill="#222" stroke="#222" stroke-width="0.3" >8%</text>
<line x1="197.89999999999998" y1="363.59999999999997" x2="199.7" y2="363.59999999999997" stroke="#555" stroke-width="0.8"/>
<text x="197.00" y="366.00" font-size="6.7" text-anchor="end" fill="#222" stroke="#222" stroke-width="0.3" >10%</text>
<rect x="237.5" y="325.0" width="57.0" height="95.69999999999999" fill="#e4e5e4" stroke="#9c9c9c" stroke-width="0.9"/>
<line x1="237.5" y1="325.0" x2="205.7" y2="392.5" stroke="#555" stroke-width="0.6"/>
<line x1="237.5" y1="420.7" x2="231.39999999999998" y2="427.3" stroke="#555" stroke-width="0.6"/>
<path d="M204.5,394.5 L207.5,404.8 L209.8,411.6 L212.0,412.3 L214.8,414.5 L217.0,416.1 L220.0,419.1 L222.3,420.0 L225.0,421.8 L228.0,427.0 L230.2,427.3" fill="none" stroke="#333" stroke-width="0.9"/>
<path d="M230.2,427.3 L240.9,429.8 L247.7,435.5 L259.0,440.0 L279.5,442.3 L288.6,450.2" fill="none" stroke="#666" stroke-width="0.6"/>
<circle cx="204.5" cy="394.5" r="1.45" fill="#3a3a3a"/>
<circle cx="207.5" cy="404.8" r="1.45" fill="#3a3a3a"/>
<circle cx="209.8" cy="411.6" r="1.45" fill="#3a3a3a"/>
<circle cx="212" cy="412.3" r="1.45" fill="#3a3a3a"/>
<circle cx="214.8" cy="414.5" r="1.45" fill="#3a3a3a"/>
<circle cx="217" cy="416.1" r="1.45" fill="#3a3a3a"/>
<circle cx="220" cy="419.1" r="1.45" fill="#3a3a3a"/>
<circle cx="222.3" cy="420" r="1.45" fill="#3a3a3a"/>
<circle cx="225" cy="421.8" r="1.45" fill="#3a3a3a"/>
<circle cx="228" cy="427" r="1.45" fill="#3a3a3a"/>
<circle cx="230.2" cy="427.3" r="1.45" fill="#3a3a3a"/>
<text x="242.00" y="335.40" font-size="9.9" text-anchor="start" fill="#2a2a2a" stroke="#2a2a2a" stroke-width="0.15" >TBX15</text>
<text x="242.00" y="344.30" font-size="9.67" text-anchor="start" fill="#2a2a2a" stroke="#2a2a2a" stroke-width="0.15" >SIPA1L3</text>
<text x="242.00" y="353.20" font-size="8.94" text-anchor="start" fill="#2a2a2a" stroke="#2a2a2a" stroke-width="0.15" >DENND1B</text>
<text x="242.00" y="361.90" font-size="8.63" text-anchor="start" fill="#2a2a2a" stroke="#2a2a2a" stroke-width="0.15" >MTX2</text>
<text x="242.00" y="370.10" font-size="8.53" text-anchor="start" fill="#2a2a2a" stroke="#2a2a2a" stroke-width="0.15" >FITM2</text>
<text x="242.00" y="378.30" font-size="8.32" text-anchor="start" fill="#2a2a2a" stroke="#2a2a2a" stroke-width="0.15" >RUNX2</text>
<text x="242.00" y="386.50" font-size="7.9" text-anchor="start" fill="#2a2a2a" stroke="#2a2a2a" stroke-width="0.15" >PUS7</text>
<text x="242.00" y="394.50" font-size="8.01" text-anchor="start" fill="#2a2a2a" stroke="#2a2a2a" stroke-width="0.15" >ITGA11</text>
<text x="242.00" y="401.50" font-size="7.9" text-anchor="start" fill="#2a2a2a" stroke="#2a2a2a" stroke-width="0.15" >PLAAT1</text>
<text x="242.00" y="409.30" font-size="7.18" text-anchor="start" fill="#2a2a2a" stroke="#2a2a2a" stroke-width="0.15" >RSRC1</text>
<text x="242.00" y="416.00" font-size="7.28" text-anchor="start" fill="#2a2a2a" stroke="#2a2a2a" stroke-width="0.15" >PAX7</text>
<text x="0.00" y="0.00" font-size="10.1" text-anchor="middle" fill="#111" stroke="#111" stroke-width="0.3" transform="translate(182.6,389.9) rotate(-90)">Contribution</text>
<text x="245.70" y="469.40" font-size="9.8" text-anchor="middle" fill="#111" stroke="#111" stroke-width="0.3" >Rank</text>
<rect x="366.5" y="2.3" width="84.0" height="130.0" fill="#fff" stroke="#333" stroke-width="1"/>
<line x1="364.5" y1="127.70" x2="366.5" y2="127.70" stroke="#333" stroke-width="0.7"/>
<text x="362.70" y="130.20" font-size="7.0" text-anchor="end" fill="#222" stroke="#222" stroke-width="0.3" >0.0</text>
<line x1="364.5" y1="97.50" x2="366.5" y2="97.50" stroke="#333" stroke-width="0.7"/>
<text x="362.70" y="100.00" font-size="7.0" text-anchor="end" fill="#222" stroke="#222" stroke-width="0.3" >0.2</text>
<line x1="364.5" y1="67.30" x2="366.5" y2="67.30" stroke="#333" stroke-width="0.7"/>
<text x="362.70" y="69.80" font-size="7.0" text-anchor="end" fill="#222" stroke="#222" stroke-width="0.3" >0.4</text>
<line x1="364.5" y1="37.10" x2="366.5" y2="37.10" stroke="#333" stroke-width="0.7"/>
<text x="362.70" y="39.60" font-size="7.0" text-anchor="end" fill="#222" stroke="#222" stroke-width="0.3" >0.6</text>
<line x1="364.5" y1="6.90" x2="366.5" y2="6.90" stroke="#333" stroke-width="0.7"/>
<text x="362.70" y="9.40" font-size="7.0" text-anchor="end" fill="#222" stroke="#222" stroke-width="0.3" >0.8</text>
<line x1="379.35" y1="132.3" x2="379.35" y2="134.3" stroke="#333" stroke-width="0.7"/>
<text x="0.00" y="0.00" font-size="8.2" text-anchor="end" fill="#222" stroke="#222" stroke-width="0.3" transform="translate(381.95000000000005,140.9) rotate(-45)">AFR</text>
<path d="M379.65,10.50 C379.93,12.08 380.82,17.07 381.35,20.00 C381.88,22.93 382.18,24.40 382.85,28.10 C383.52,31.80 384.75,37.52 385.35,42.20 C385.95,46.88 386.25,52.23 386.45,56.20 C386.65,60.17 386.83,62.03 386.55,66.00 C386.27,69.97 385.33,75.32 384.75,80.00 C384.17,84.68 383.58,89.40 383.05,94.10 C382.52,98.80 382.03,103.52 381.55,108.20 C381.07,112.88 380.48,118.93 380.15,122.20 C379.82,125.47 379.65,126.87 379.55,127.80 L379.15,127.80 C379.05,126.87 378.88,125.47 378.55,122.20 C378.22,118.93 377.63,112.88 377.15,108.20 C376.67,103.52 376.18,98.80 375.65,94.10 C375.12,89.40 374.53,84.68 373.95,80.00 C373.37,75.32 372.43,69.97 372.15,66.00 C371.87,62.03 372.05,60.17 372.25,56.20 C372.45,52.23 372.75,46.88 373.35,42.20 C373.95,37.52 375.18,31.80 375.85,28.10 C376.52,24.40 376.82,22.93 377.35,20.00 C377.88,17.07 378.77,12.08 379.05,10.50 Z" fill="#dfa3a3" stroke="#555" stroke-width="0.5"/>
<line x1="379.35" y1="10.5" x2="379.35" y2="49.9" stroke="#333" stroke-width="0.7"/>
<line x1="379.35" y1="77.0" x2="379.35" y2="127.8" stroke="#333" stroke-width="0.7"/>
<rect x="376.3" y="49.9" width="6.199999999999989" height="27.1" fill="#b0221f" stroke="#222" stroke-width="0.9"/>
<line x1="376.3" y1="63.1" x2="382.5" y2="63.1" stroke="#000" stroke-width="1.7"/>
<line x1="398.7" y1="132.3" x2="398.7" y2="134.3" stroke="#333" stroke-width="0.7"/>
<text x="0.00" y="0.00" font-size="8.2" text-anchor="end" fill="#222" stroke="#222" stroke-width="0.3" transform="translate(401.3,140.9) rotate(-45)">EUR</text>
<path d="M399.00,19.00 C399.18,20.83 399.78,26.13 400.10,30.00 C400.42,33.87 400.63,37.83 400.90,42.20 C401.17,46.57 401.40,52.23 401.70,56.20 C402.00,60.17 402.32,62.03 402.70,66.00 C403.08,69.97 403.55,75.32 404.00,80.00 C404.45,84.68 405.17,89.40 405.40,94.10 C405.63,98.80 405.67,103.98 405.40,108.20 C405.13,112.42 404.25,116.20 403.80,119.40 C403.35,122.60 402.88,126.07 402.70,127.40 L394.70,127.40 C394.52,126.07 394.05,122.60 393.60,119.40 C393.15,116.20 392.27,112.42 392.00,108.20 C391.73,103.98 391.77,98.80 392.00,94.10 C392.23,89.40 392.95,84.68 393.40,80.00 C393.85,75.32 394.32,69.97 394.70,66.00 C395.08,62.03 395.40,60.17 395.70,56.20 C396.00,52.23 396.23,46.57 396.50,42.20 C396.77,37.83 396.98,33.87 397.30,30.00 C397.62,26.13 398.22,20.83 398.40,19.00 Z" fill="#f4eda8" stroke="#555" stroke-width="0.5"/>
<line x1="398.7" y1="19" x2="398.7" y2="83.1" stroke="#333" stroke-width="0.7"/>
<line x1="398.7" y1="113.5" x2="398.7" y2="127.4" stroke="#333" stroke-width="0.7"/>
<rect x="396.2" y="83.1" width="5.600000000000023" height="30.400000000000006" fill="#ebd04a" stroke="#222" stroke-width="0.9"/>
<line x1="396.2" y1="100.0" x2="401.8" y2="100.0" stroke="#000" stroke-width="1.7"/>
<line x1="418.4" y1="132.3" x2="418.4" y2="134.3" stroke="#333" stroke-width="0.7"/>
<text x="0.00" y="0.00" font-size="8.2" text-anchor="end" fill="#222" stroke="#222" stroke-width="0.3" transform="translate(421.0,140.9) rotate(-45)">EAS</text>
<path d="M418.70,14.00 C418.85,15.00 419.30,17.65 419.60,20.00 C419.90,22.35 420.05,24.40 420.50,28.10 C420.95,31.80 421.77,37.52 422.30,42.20 C422.83,46.88 423.23,52.23 423.70,56.20 C424.17,60.17 424.87,62.03 425.10,66.00 C425.33,69.97 425.33,75.32 425.10,80.00 C424.87,84.68 424.28,89.40 423.70,94.10 C423.12,98.80 422.25,103.52 421.60,108.20 C420.95,112.88 420.28,118.93 419.80,122.20 C419.32,125.47 418.88,126.87 418.70,127.80 L418.10,127.80 C417.92,126.87 417.48,125.47 417.00,122.20 C416.52,118.93 415.85,112.88 415.20,108.20 C414.55,103.52 413.68,98.80 413.10,94.10 C412.52,89.40 411.93,84.68 411.70,80.00 C411.47,75.32 411.47,69.97 411.70,66.00 C411.93,62.03 412.63,60.17 413.10,56.20 C413.57,52.23 413.97,46.88 414.50,42.20 C415.03,37.52 415.85,31.80 416.30,28.10 C416.75,24.40 416.90,22.35 417.20,20.00 C417.50,17.65 417.95,15.00 418.10,14.00 Z" fill="#9fe3be" stroke="#555" stroke-width="0.5"/>
<line x1="418.4" y1="4.2" x2="418.4" y2="64.6" stroke="#333" stroke-width="0.7"/>
<line x1="418.4" y1="93.4" x2="418.4" y2="127.8" stroke="#333" stroke-width="0.7"/>
<rect x="415.5" y="64.6" width="6.0" height="28.80000000000001" fill="#3eb868" stroke="#222" stroke-width="0.9"/>
<line x1="415.5" y1="79.4" x2="421.5" y2="79.4" stroke="#000" stroke-width="1.7"/>
<line x1="437.9" y1="132.3" x2="437.9" y2="134.3" stroke="#333" stroke-width="0.7"/>
<text x="0.00" y="0.00" font-size="8.2" text-anchor="end" fill="#222" stroke="#222" stroke-width="0.3" transform="translate(440.5,140.9) rotate(-45)">SAS</text>
<path d="M438.20,14.80 C438.40,17.00 439.03,23.43 439.40,28.00 C439.77,32.57 440.00,37.50 440.40,42.20 C440.80,46.90 441.40,52.23 441.80,56.20 C442.20,60.17 442.43,62.03 442.80,66.00 C443.17,69.97 443.67,75.32 444.00,80.00 C444.33,84.68 444.73,89.40 444.80,94.10 C444.87,98.80 444.77,103.52 444.40,108.20 C444.03,112.88 443.03,119.00 442.60,122.20 C442.17,125.40 441.93,126.53 441.80,127.40 L434.00,127.40 C433.87,126.53 433.63,125.40 433.20,122.20 C432.77,119.00 431.77,112.88 431.40,108.20 C431.03,103.52 430.93,98.80 431.00,94.10 C431.07,89.40 431.47,84.68 431.80,80.00 C432.13,75.32 432.63,69.97 433.00,66.00 C433.37,62.03 433.60,60.17 434.00,56.20 C434.40,52.23 435.00,46.90 435.40,42.20 C435.80,37.50 436.03,32.57 436.40,28.00 C436.77,23.43 437.40,17.00 437.60,14.80 Z" fill="#abc7ec" stroke="#555" stroke-width="0.5"/>
<line x1="437.9" y1="14.8" x2="437.9" y2="78.4" stroke="#333" stroke-width="0.7"/>
<line x1="437.9" y1="112.4" x2="437.9" y2="127.4" stroke="#333" stroke-width="0.7"/>
<rect x="434.9" y="78.4" width="5.600000000000023" height="34.0" fill="#3f74d0" stroke="#222" stroke-width="0.9"/>
<line x1="434.9" y1="96.2" x2="440.5" y2="96.2" stroke="#000" stroke-width="1.7"/>
<text x="0.00" y="0.00" font-size="8.0" text-anchor="middle" fill="#111" stroke="#111" stroke-width="0.3" transform="translate(347.5,66.8) rotate(-90)">PRS r<tspan dy="-3.6" font-size="5.8">2</tspan><tspan dy="3.6"> with Neanderthals</tspan></text>
<rect x="483.9" y="2.3" width="83.20000000000005" height="130.0" fill="#fff" stroke="#333" stroke-width="1"/>
<line x1="481.9" y1="127.70" x2="483.9" y2="127.70" stroke="#333" stroke-width="0.7"/>
<text x="480.10" y="130.20" font-size="7.0" text-anchor="end" fill="#222" stroke="#222" stroke-width="0.3" >0.0</text>
<line x1="481.9" y1="97.50" x2="483.9" y2="97.50" stroke="#333" stroke-width="0.7"/>
<text x="480.10" y="100.00" font-size="7.0" text-anchor="end" fill="#222" stroke="#222" stroke-width="0.3" >0.2</text>
<line x1="481.9" y1="67.30" x2="483.9" y2="67.30" stroke="#333" stroke-width="0.7"/>
<text x="480.10" y="69.80" font-size="7.0" text-anchor="end" fill="#222" stroke="#222" stroke-width="0.3" >0.4</text>
<line x1="481.9" y1="37.10" x2="483.9" y2="37.10" stroke="#333" stroke-width="0.7"/>
<text x="480.10" y="39.60" font-size="7.0" text-anchor="end" fill="#222" stroke="#222" stroke-width="0.3" >0.6</text>
<line x1="481.9" y1="6.90" x2="483.9" y2="6.90" stroke="#333" stroke-width="0.7"/>
<text x="480.10" y="9.40" font-size="7.0" text-anchor="end" fill="#222" stroke="#222" stroke-width="0.3" >0.8</text>
<line x1="496.8" y1="132.3" x2="496.8" y2="134.3" stroke="#333" stroke-width="0.7"/>
<text x="0.00" y="0.00" font-size="8.2" text-anchor="end" fill="#222" stroke="#222" stroke-width="0.3" transform="translate(499.40000000000003,140.9) rotate(-45)">AFR</text>
<path d="M497.10,30.20 C497.30,31.17 497.78,33.57 498.30,36.00 C498.82,38.43 499.47,41.27 500.20,44.80 C500.93,48.33 502.08,53.07 502.70,57.20 C503.32,61.33 503.70,65.88 503.90,69.60 C504.10,73.32 504.20,76.53 503.90,79.50 C503.60,82.47 502.67,84.02 502.10,87.40 C501.53,90.78 501.02,95.67 500.50,99.80 C499.98,103.93 499.48,108.83 499.00,112.20 C498.52,115.57 497.93,118.15 497.60,120.00 C497.27,121.85 497.10,122.75 497.00,123.30 L496.60,123.30 C496.50,122.75 496.33,121.85 496.00,120.00 C495.67,118.15 495.08,115.57 494.60,112.20 C494.12,108.83 493.62,103.93 493.10,99.80 C492.58,95.67 492.07,90.78 491.50,87.40 C490.93,84.02 490.00,82.47 489.70,79.50 C489.40,76.53 489.50,73.32 489.70,69.60 C489.90,65.88 490.28,61.33 490.90,57.20 C491.52,53.07 492.67,48.33 493.40,44.80 C494.13,41.27 494.78,38.43 495.30,36.00 C495.82,33.57 496.30,31.17 496.50,30.20 Z" fill="#dfa3a3" stroke="#555" stroke-width="0.5"/>
<line x1="496.8" y1="30.2" x2="496.8" y2="63.1" stroke="#333" stroke-width="0.7"/>
<line x1="496.8" y1="88.0" x2="496.8" y2="123.3" stroke="#333" stroke-width="0.7"/>
<rect x="493.9" y="63.1" width="5.800000000000011" height="24.9" fill="#b0221f" stroke="#222" stroke-width="0.9"/>
<line x1="493.9" y1="73.5" x2="499.7" y2="73.5" stroke="#000" stroke-width="1.7"/>
<line x1="516.5" y1="132.3" x2="516.5" y2="134.3" stroke="#333" stroke-width="0.7"/>
<text x="0.00" y="0.00" font-size="8.2" text-anchor="end" fill="#222" stroke="#222" stroke-width="0.3" transform="translate(519.1,140.9) rotate(-45)">EUR</text>
<path d="M516.80,38.30 C516.92,40.58 517.22,46.78 517.50,52.00 C517.78,57.22 518.12,65.02 518.50,69.60 C518.88,74.18 519.38,76.53 519.80,79.50 C520.22,82.47 520.52,84.02 521.00,87.40 C521.48,90.78 522.28,95.67 522.70,99.80 C523.12,103.93 523.60,108.48 523.50,112.20 C523.40,115.92 522.52,119.52 522.10,122.10 C521.68,124.68 521.18,126.77 521.00,127.70 L512.00,127.70 C511.82,126.77 511.32,124.68 510.90,122.10 C510.48,119.52 509.60,115.92 509.50,112.20 C509.40,108.48 509.88,103.93 510.30,99.80 C510.72,95.67 511.52,90.78 512.00,87.40 C512.48,84.02 512.78,82.47 513.20,79.50 C513.62,76.53 514.12,74.18 514.50,69.60 C514.88,65.02 515.22,57.22 515.50,52.00 C515.78,46.78 516.08,40.58 516.20,38.30 Z" fill="#f4eda8" stroke="#555" stroke-width="0.5"/>
<line x1="516.5" y1="38.3" x2="516.5" y2="94.5" stroke="#333" stroke-width="0.7"/>
<line x1="516.5" y1="118.6" x2="516.5" y2="127.7" stroke="#333" stroke-width="0.7"/>
<rect x="513.4" y="94.5" width="5.899999999999977" height="24.099999999999994" fill="#ebd04a" stroke="#222" stroke-width="0.9"/>
<line x1="513.4" y1="108.2" x2="519.3" y2="108.2" stroke="#000" stroke-width="1.7"/>
<line x1="535.8" y1="132.3" x2="535.8" y2="134.3" stroke="#333" stroke-width="0.7"/>
<text x="0.00" y="0.00" font-size="8.2" text-anchor="end" fill="#222" stroke="#222" stroke-width="0.3" transform="translate(538.4,140.9) rotate(-45)">EAS</text>
<path d="M536.10,46.60 C536.43,48.37 537.38,53.37 538.10,57.20 C538.82,61.03 539.70,65.88 540.40,69.60 C541.10,73.32 541.88,76.53 542.30,79.50 C542.72,82.47 543.00,84.02 542.90,87.40 C542.80,90.78 542.32,95.67 541.70,99.80 C541.08,103.93 539.98,108.67 539.20,112.20 C538.42,115.73 537.52,118.83 537.00,121.00 C536.48,123.17 536.25,124.50 536.10,125.20 L535.50,125.20 C535.35,124.50 535.12,123.17 534.60,121.00 C534.08,118.83 533.18,115.73 532.40,112.20 C531.62,108.67 530.52,103.93 529.90,99.80 C529.28,95.67 528.80,90.78 528.70,87.40 C528.60,84.02 528.88,82.47 529.30,79.50 C529.72,76.53 530.50,73.32 531.20,69.60 C531.90,65.88 532.78,61.03 533.50,57.20 C534.22,53.37 535.17,48.37 535.50,46.60 Z" fill="#9fe3be" stroke="#555" stroke-width="0.5"/>
<line x1="535.8" y1="46.6" x2="535.8" y2="78.0" stroke="#333" stroke-width="0.7"/>
<line x1="535.8" y1="100.4" x2="535.8" y2="125.2" stroke="#333" stroke-width="0.7"/>
<rect x="533.0" y="78.0" width="5.7999999999999545" height="22.400000000000006" fill="#3eb868" stroke="#222" stroke-width="0.9"/>
<line x1="533.0" y1="90.1" x2="538.8" y2="90.1" stroke="#000" stroke-width="1.7"/>
<line x1="555.5" y1="132.3" x2="555.5" y2="134.3" stroke="#333" stroke-width="0.7"/>
<text x="0.00" y="0.00" font-size="8.2" text-anchor="end" fill="#222" stroke="#222" stroke-width="0.3" transform="translate(558.1,140.9) rotate(-45)">SAS</text>
<path d="M555.80,53.20 C555.90,54.67 556.20,59.27 556.40,62.00 C556.60,64.73 556.68,66.68 557.00,69.60 C557.32,72.52 557.88,76.53 558.30,79.50 C558.72,82.47 559.00,84.02 559.50,87.40 C560.00,90.78 560.83,95.67 561.30,99.80 C561.77,103.93 562.23,108.48 562.30,112.20 C562.37,115.92 562.07,119.52 561.70,122.10 C561.33,124.68 560.37,126.77 560.10,127.70 L550.90,127.70 C550.63,126.77 549.67,124.68 549.30,122.10 C548.93,119.52 548.63,115.92 548.70,112.20 C548.77,108.48 549.23,103.93 549.70,99.80 C550.17,95.67 551.00,90.78 551.50,87.40 C552.00,84.02 552.28,82.47 552.70,79.50 C553.12,76.53 553.68,72.52 554.00,69.60 C554.32,66.68 554.40,64.73 554.60,62.00 C554.80,59.27 555.10,54.67 555.20,53.20 Z" fill="#abc7ec" stroke="#555" stroke-width="0.5"/>
<line x1="555.5" y1="53.2" x2="555.5" y2="97.3" stroke="#333" stroke-width="0.7"/>
<line x1="555.5" y1="120.6" x2="555.5" y2="127.7" stroke="#333" stroke-width="0.7"/>
<rect x="550.2" y="97.3" width="6.099999999999909" height="23.299999999999997" fill="#3f74d0" stroke="#222" stroke-width="0.9"/>
<line x1="550.2" y1="109.7" x2="556.3" y2="109.7" stroke="#000" stroke-width="1.7"/>
<text x="0.00" y="0.00" font-size="8.0" text-anchor="middle" fill="#111" stroke="#111" stroke-width="0.3" transform="translate(464.9,66.8) rotate(-90)">PRS r<tspan dy="-3.6" font-size="5.8">2</tspan><tspan dy="3.6"> with admixed individual</tspan></text>
<rect x="598.9" y="2.3" width="83.20000000000005" height="130.0" fill="#fff" stroke="#333" stroke-width="1"/>
<line x1="596.9" y1="127.70" x2="598.9" y2="127.70" stroke="#333" stroke-width="0.7"/>
<text x="595.10" y="130.20" font-size="7.0" text-anchor="end" fill="#222" stroke="#222" stroke-width="0.3" >0.0</text>
<line x1="596.9" y1="97.50" x2="598.9" y2="97.50" stroke="#333" stroke-width="0.7"/>
<text x="595.10" y="100.00" font-size="7.0" text-anchor="end" fill="#222" stroke="#222" stroke-width="0.3" >0.2</text>
<line x1="596.9" y1="67.30" x2="598.9" y2="67.30" stroke="#333" stroke-width="0.7"/>
<text x="595.10" y="69.80" font-size="7.0" text-anchor="end" fill="#222" stroke="#222" stroke-width="0.3" >0.4</text>
<line x1="596.9" y1="37.10" x2="598.9" y2="37.10" stroke="#333" stroke-width="0.7"/>
<text x="595.10" y="39.60" font-size="7.0" text-anchor="end" fill="#222" stroke="#222" stroke-width="0.3" >0.6</text>
<line x1="596.9" y1="6.90" x2="598.9" y2="6.90" stroke="#333" stroke-width="0.7"/>
<text x="595.10" y="9.40" font-size="7.0" text-anchor="end" fill="#222" stroke="#222" stroke-width="0.3" >0.8</text>
<line x1="612.0" y1="132.3" x2="612.0" y2="134.3" stroke="#333" stroke-width="0.7"/>
<text x="0.00" y="0.00" font-size="8.2" text-anchor="end" fill="#222" stroke="#222" stroke-width="0.3" transform="translate(614.6,140.9) rotate(-45)">AFR</text>
<path d="M612.30,28.10 C612.50,29.42 613.07,33.22 613.50,36.00 C613.93,38.78 614.27,41.27 614.90,44.80 C615.53,48.33 616.65,53.07 617.30,57.20 C617.95,61.33 618.50,65.88 618.80,69.60 C619.10,73.32 619.32,76.53 619.10,79.50 C618.88,82.47 618.03,84.02 617.50,87.40 C616.97,90.78 616.48,95.67 615.90,99.80 C615.32,103.93 614.52,108.83 614.00,112.20 C613.48,115.57 613.10,118.25 612.80,120.00 C612.50,121.75 612.30,122.25 612.20,122.70 L611.80,122.70 C611.70,122.25 611.50,121.75 611.20,120.00 C610.90,118.25 610.52,115.57 610.00,112.20 C609.48,108.83 608.68,103.93 608.10,99.80 C607.52,95.67 607.03,90.78 606.50,87.40 C605.97,84.02 605.12,82.47 604.90,79.50 C604.68,76.53 604.90,73.32 605.20,69.60 C605.50,65.88 606.05,61.33 606.70,57.20 C607.35,53.07 608.47,48.33 609.10,44.80 C609.73,41.27 610.07,38.78 610.50,36.00 C610.93,33.22 611.50,29.42 611.70,28.10 Z" fill="#dfa3a3" stroke="#555" stroke-width="0.5"/>
<line x1="612.0" y1="28.1" x2="612.0" y2="65.2" stroke="#333" stroke-width="0.7"/>
<line x1="612.0" y1="89.6" x2="612.0" y2="122.7" stroke="#333" stroke-width="0.7"/>
<rect x="609.2" y="65.2" width="5.699999999999932" height="24.39999999999999" fill="#b0221f" stroke="#222" stroke-width="0.9"/>
<line x1="609.2" y1="76.8" x2="614.9" y2="76.8" stroke="#000" stroke-width="1.7"/>
<line x1="631.5" y1="132.3" x2="631.5" y2="134.3" stroke="#333" stroke-width="0.7"/>
<text x="0.00" y="0.00" font-size="8.2" text-anchor="end" fill="#222" stroke="#222" stroke-width="0.3" transform="translate(634.1,140.9) rotate(-45)">EUR</text>
<path d="M631.80,38.00 C631.90,39.13 632.08,41.60 632.40,44.80 C632.72,48.00 633.23,53.07 633.70,57.20 C634.17,61.33 634.73,65.88 635.20,69.60 C635.67,73.32 636.07,76.53 636.50,79.50 C636.93,82.47 637.47,84.02 637.80,87.40 C638.13,90.78 638.50,95.67 638.50,99.80 C638.50,103.93 638.22,108.48 637.80,112.20 C637.38,115.92 636.48,119.52 636.00,122.10 C635.52,124.68 635.08,126.77 634.90,127.70 L628.10,127.70 C627.92,126.77 627.48,124.68 627.00,122.10 C626.52,119.52 625.62,115.92 625.20,112.20 C624.78,108.48 624.50,103.93 624.50,99.80 C624.50,95.67 624.87,90.78 625.20,87.40 C625.53,84.02 626.07,82.47 626.50,79.50 C626.93,76.53 627.33,73.32 627.80,69.60 C628.27,65.88 628.83,61.33 629.30,57.20 C629.77,53.07 630.28,48.00 630.60,44.80 C630.92,41.60 631.10,39.13 631.20,38.00 Z" fill="#f4eda8" stroke="#555" stroke-width="0.5"/>
<line x1="631.5" y1="28.7" x2="631.5" y2="85.5" stroke="#333" stroke-width="0.7"/>
<line x1="631.5" y1="112.4" x2="631.5" y2="127.7" stroke="#333" stroke-width="0.7"/>
<rect x="628.4" y="85.5" width="6.300000000000068" height="26.900000000000006" fill="#ebd04a" stroke="#222" stroke-width="0.9"/>
<line x1="628.4" y1="99.2" x2="634.7" y2="99.2" stroke="#000" stroke-width="1.7"/>
<line x1="651.0" y1="132.3" x2="651.0" y2="134.3" stroke="#333" stroke-width="0.7"/>
<text x="0.00" y="0.00" font-size="8.2" text-anchor="end" fill="#222" stroke="#222" stroke-width="0.3" transform="translate(653.6,140.9) rotate(-45)">EAS</text>
<path d="M651.30,40.10 C651.45,41.42 651.83,45.15 652.20,48.00 C652.57,50.85 652.98,53.60 653.50,57.20 C654.02,60.80 654.73,65.88 655.30,69.60 C655.87,73.32 656.45,76.53 656.90,79.50 C657.35,82.47 657.95,84.02 658.00,87.40 C658.05,90.78 657.70,95.67 657.20,99.80 C656.70,103.93 655.70,108.67 655.00,112.20 C654.30,115.73 653.58,118.93 653.00,121.00 C652.42,123.07 651.75,124.00 651.50,124.60 L650.50,124.60 C650.25,124.00 649.58,123.07 649.00,121.00 C648.42,118.93 647.70,115.73 647.00,112.20 C646.30,108.67 645.30,103.93 644.80,99.80 C644.30,95.67 643.95,90.78 644.00,87.40 C644.05,84.02 644.65,82.47 645.10,79.50 C645.55,76.53 646.13,73.32 646.70,69.60 C647.27,65.88 647.98,60.80 648.50,57.20 C649.02,53.60 649.43,50.85 649.80,48.00 C650.17,45.15 650.55,41.42 650.70,40.10 Z" fill="#9fe3be" stroke="#555" stroke-width="0.5"/>
<line x1="651.0" y1="40.1" x2="651.0" y2="80.2" stroke="#333" stroke-width="0.7"/>
<line x1="651.0" y1="102.5" x2="651.0" y2="124.6" stroke="#333" stroke-width="0.7"/>
<rect x="648.2" y="80.2" width="5.699999999999932" height="22.299999999999997" fill="#3eb868" stroke="#222" stroke-width="0.9"/>
<line x1="648.2" y1="92.1" x2="653.9" y2="92.1" stroke="#000" stroke-width="1.7"/>
<line x1="670.5" y1="132.3" x2="670.5" y2="134.3" stroke="#333" stroke-width="0.7"/>
<text x="0.00" y="0.00" font-size="8.2" text-anchor="end" fill="#222" stroke="#222" stroke-width="0.3" transform="translate(673.1,140.9) rotate(-45)">SAS</text>
<path d="M670.80,49.70 C670.95,51.42 671.38,56.68 671.70,60.00 C672.02,63.32 672.32,66.35 672.70,69.60 C673.08,72.85 673.43,76.53 674.00,79.50 C674.57,82.47 675.57,84.02 676.10,87.40 C676.63,90.78 677.02,95.67 677.20,99.80 C677.38,103.93 677.43,108.48 677.20,112.20 C676.97,115.92 676.25,119.52 675.80,122.10 C675.35,124.68 674.72,126.77 674.50,127.70 L666.50,127.70 C666.28,126.77 665.65,124.68 665.20,122.10 C664.75,119.52 664.03,115.92 663.80,112.20 C663.57,108.48 663.62,103.93 663.80,99.80 C663.98,95.67 664.37,90.78 664.90,87.40 C665.43,84.02 666.43,82.47 667.00,79.50 C667.57,76.53 667.92,72.85 668.30,69.60 C668.68,66.35 668.98,63.32 669.30,60.00 C669.62,56.68 670.05,51.42 670.20,49.70 Z" fill="#abc7ec" stroke="#555" stroke-width="0.5"/>
<line x1="670.5" y1="34.3" x2="670.5" y2="88.4" stroke="#333" stroke-width="0.7"/>
<line x1="670.5" y1="114.4" x2="670.5" y2="127.7" stroke="#333" stroke-width="0.7"/>
<rect x="667.2" y="88.4" width="6.399999999999977" height="26.0" fill="#3f74d0" stroke="#222" stroke-width="0.9"/>
<line x1="667.2" y1="103.5" x2="673.6" y2="103.5" stroke="#000" stroke-width="1.7"/>
<text x="0.00" y="0.00" font-size="8.0" text-anchor="middle" fill="#111" stroke="#111" stroke-width="0.3" transform="translate(579.9,66.8) rotate(-90)">PRS r<tspan dy="-3.6" font-size="5.8">2</tspan><tspan dy="3.6"> with Denisovan</tspan></text>
<rect x="378.5" y="185.3" width="247.89999999999998" height="218.89999999999998" fill="#fff" stroke="none"/>
<line x1="376.3" y1="193.50" x2="378.5" y2="193.50" stroke="#333" stroke-width="0.7"/>
<text x="372.90" y="196.30" font-size="7.9" text-anchor="end" fill="#222" stroke="#222" stroke-width="0.3" >0.35</text>
<line x1="376.3" y1="241.75" x2="378.5" y2="241.75" stroke="#333" stroke-width="0.7"/>
<text x="372.90" y="244.55" font-size="7.9" text-anchor="end" fill="#222" stroke="#222" stroke-width="0.3" >0.30</text>
<line x1="376.3" y1="290.00" x2="378.5" y2="290.00" stroke="#333" stroke-width="0.7"/>
<text x="372.90" y="292.80" font-size="7.9" text-anchor="end" fill="#222" stroke="#222" stroke-width="0.3" >0.25</text>
<line x1="376.3" y1="338.25" x2="378.5" y2="338.25" stroke="#333" stroke-width="0.7"/>
<text x="372.90" y="341.05" font-size="7.9" text-anchor="end" fill="#222" stroke="#222" stroke-width="0.3" >0.20</text>
<line x1="376.3" y1="386.50" x2="378.5" y2="386.50" stroke="#333" stroke-width="0.7"/>
<text x="372.90" y="389.30" font-size="7.9" text-anchor="end" fill="#222" stroke="#222" stroke-width="0.3" >0.15</text>
<text x="0.00" y="0.00" font-size="11.0" text-anchor="middle" fill="#111" stroke="#111" stroke-width="0.3" transform="translate(349,319.0) rotate(-90)">Mean absolute frequency difference with archaic humans</text>
<path d="M395.70,280.90 C395.71,281.36 395.72,282.73 395.75,283.64 C395.78,284.56 395.80,285.47 395.85,286.39 C395.90,287.30 395.97,288.21 396.05,289.13 C396.13,290.04 396.22,290.96 396.32,291.87 C396.43,292.79 396.55,293.70 396.68,294.61 C396.82,295.53 396.97,296.44 397.14,297.36 C397.31,298.27 397.49,299.19 397.69,300.10 C397.88,301.01 398.09,301.93 398.31,302.84 C398.52,303.76 398.75,304.67 398.97,305.59 C399.18,306.50 399.41,307.41 399.62,308.33 C399.83,309.24 400.03,310.16 400.21,311.07 C400.39,311.99 400.56,312.90 400.69,313.81 C400.82,314.73 400.92,315.64 400.99,316.56 C401.06,317.47 401.10,318.40 401.10,319.30 C401.10,320.20 401.06,321.08 401.00,321.97 C400.93,322.86 400.83,323.75 400.71,324.64 C400.58,325.53 400.42,326.42 400.25,327.31 C400.08,328.20 399.89,329.10 399.68,329.99 C399.48,330.88 399.27,331.77 399.05,332.66 C398.84,333.55 398.62,334.44 398.41,335.33 C398.20,336.22 397.99,337.11 397.79,338.00 C397.60,338.89 397.42,339.78 397.25,340.67 C397.08,341.56 396.92,342.45 396.78,343.34 C396.64,344.23 396.52,345.12 396.41,346.01 C396.30,346.90 396.20,347.80 396.12,348.69 C396.04,349.58 395.97,350.47 395.91,351.36 C395.85,352.25 395.79,353.14 395.76,354.03 C395.72,354.92 395.71,356.25 395.70,356.70 L395.30,356.70 C395.29,356.25 395.28,354.92 395.24,354.03 C395.21,353.14 395.15,352.25 395.09,351.36 C395.03,350.47 394.96,349.58 394.88,348.69 C394.80,347.80 394.70,346.90 394.59,346.01 C394.48,345.12 394.36,344.23 394.22,343.34 C394.08,342.45 393.92,341.56 393.75,340.67 C393.58,339.78 393.40,338.89 393.21,338.00 C393.01,337.11 392.80,336.22 392.59,335.33 C392.38,334.44 392.16,333.55 391.95,332.66 C391.73,331.77 391.52,330.88 391.32,329.99 C391.11,329.10 390.92,328.20 390.75,327.31 C390.58,326.42 390.42,325.53 390.29,324.64 C390.17,323.75 390.07,322.86 390.00,321.97 C389.94,321.08 389.90,320.20 389.90,319.30 C389.90,318.40 389.94,317.47 390.01,316.56 C390.08,315.64 390.18,314.73 390.31,313.81 C390.44,312.90 390.61,311.99 390.79,311.07 C390.97,310.16 391.17,309.24 391.38,308.33 C391.59,307.41 391.82,306.50 392.03,305.59 C392.25,304.67 392.48,303.76 392.69,302.84 C392.91,301.93 393.12,301.01 393.31,300.10 C393.51,299.19 393.69,298.27 393.86,297.36 C394.03,296.44 394.18,295.53 394.32,294.61 C394.45,293.70 394.57,292.79 394.68,291.87 C394.78,290.96 394.87,290.04 394.95,289.13 C395.03,288.21 395.10,287.30 395.15,286.39 C395.20,285.47 395.22,284.56 395.25,283.64 C395.28,282.73 395.29,281.36 395.30,280.90 Z" fill="#e0a8a8" stroke="#666" stroke-width="0.55"/>
<line x1="395.5" y1="280.9" x2="395.5" y2="313.0" stroke="#444" stroke-width="0.7"/>
<line x1="395.5" y1="326.6" x2="395.5" y2="356.7" stroke="#444" stroke-width="0.7"/>
<rect x="393.2" y="313.0" width="4.600000000000023" height="13.600000000000023" fill="#b0221f" stroke="#222" stroke-width="0.8"/>
<line x1="393.2" y1="319.4" x2="397.8" y2="319.4" stroke="#000" stroke-width="1.7"/>
<path d="M410.80,247.20 C410.82,248.06 410.85,250.66 410.90,252.39 C410.94,254.11 410.99,255.84 411.06,257.57 C411.12,259.30 411.19,261.03 411.28,262.76 C411.36,264.49 411.46,266.21 411.57,267.94 C411.68,269.67 411.81,271.40 411.95,273.13 C412.08,274.86 412.24,276.59 412.40,278.31 C412.57,280.04 412.75,281.77 412.93,283.50 C413.12,285.23 413.31,286.96 413.51,288.69 C413.71,290.41 413.92,292.14 414.12,293.87 C414.32,295.60 414.52,297.33 414.70,299.06 C414.89,300.79 415.07,302.51 415.23,304.24 C415.38,305.97 415.53,307.70 415.64,309.43 C415.76,311.16 415.85,312.89 415.91,314.61 C415.97,316.34 416.00,318.13 416.00,319.80 C416.00,321.47 415.98,323.03 415.93,324.65 C415.88,326.27 415.81,327.88 415.72,329.50 C415.64,331.12 415.52,332.73 415.40,334.35 C415.28,335.97 415.13,337.58 414.98,339.20 C414.83,340.82 414.66,342.43 414.50,344.05 C414.33,345.67 414.15,347.28 413.97,348.90 C413.80,350.52 413.62,352.13 413.45,353.75 C413.27,355.37 413.10,356.98 412.94,358.60 C412.78,360.22 412.62,361.83 412.47,363.45 C412.33,365.07 412.19,366.68 412.06,368.30 C411.93,369.92 411.82,371.53 411.71,373.15 C411.60,374.77 411.51,376.38 411.42,378.00 C411.34,379.62 411.30,381.23 411.19,382.85 C411.09,384.47 410.87,386.89 410.80,387.70 L410.40,387.70 C410.33,386.89 410.11,384.47 410.01,382.85 C409.90,381.23 409.86,379.62 409.78,378.00 C409.69,376.38 409.60,374.77 409.49,373.15 C409.38,371.53 409.27,369.92 409.14,368.30 C409.01,366.68 408.87,365.07 408.73,363.45 C408.58,361.83 408.42,360.22 408.26,358.60 C408.10,356.98 407.93,355.37 407.75,353.75 C407.58,352.13 407.40,350.52 407.23,348.90 C407.05,347.28 406.87,345.67 406.70,344.05 C406.54,342.43 406.37,340.82 406.22,339.20 C406.07,337.58 405.92,335.97 405.80,334.35 C405.68,332.73 405.56,331.12 405.48,329.50 C405.39,327.88 405.32,326.27 405.27,324.65 C405.22,323.03 405.20,321.47 405.20,319.80 C405.20,318.13 405.23,316.34 405.29,314.61 C405.35,312.89 405.44,311.16 405.56,309.43 C405.67,307.70 405.82,305.97 405.97,304.24 C406.13,302.51 406.31,300.79 406.50,299.06 C406.68,297.33 406.88,295.60 407.08,293.87 C407.28,292.14 407.49,290.41 407.69,288.69 C407.89,286.96 408.08,285.23 408.27,283.50 C408.45,281.77 408.63,280.04 408.80,278.31 C408.96,276.59 409.12,274.86 409.25,273.13 C409.39,271.40 409.52,269.67 409.63,267.94 C409.74,266.21 409.84,264.49 409.92,262.76 C410.01,261.03 410.08,259.30 410.14,257.57 C410.21,255.84 410.26,254.11 410.30,252.39 C410.35,250.66 410.38,248.06 410.40,247.20 Z" fill="#fbf1f1" stroke="#666" stroke-width="0.55"/>
<line x1="410.6" y1="247.2" x2="410.6" y2="307.4" stroke="#444" stroke-width="0.7"/>
<line x1="410.6" y1="331.6" x2="410.6" y2="387.7" stroke="#444" stroke-width="0.7"/>
<rect x="408.3" y="307.4" width="4.600000000000023" height="24.200000000000045" fill="#edc9c9" stroke="#222" stroke-width="0.8"/>
<line x1="408.3" y1="319.5" x2="412.90000000000003" y2="319.5" stroke="#000" stroke-width="1.7"/>
<path d="M426.30,248.40 C426.33,249.24 426.40,251.75 426.45,253.43 C426.51,255.10 426.56,256.78 426.63,258.46 C426.70,260.13 426.78,261.81 426.87,263.49 C426.96,265.16 427.06,266.84 427.18,268.51 C427.29,270.19 427.42,271.87 427.56,273.54 C427.70,275.22 427.86,276.90 428.02,278.57 C428.19,280.25 428.37,281.92 428.55,283.60 C428.73,285.28 428.93,286.95 429.12,288.63 C429.31,290.30 429.52,291.98 429.71,293.66 C429.90,295.33 430.09,297.01 430.27,298.69 C430.45,300.36 430.62,302.04 430.77,303.71 C430.92,305.39 431.06,307.07 431.16,308.74 C431.27,310.42 431.36,312.10 431.41,313.77 C431.47,315.45 431.50,317.20 431.50,318.80 C431.50,320.40 431.48,321.83 431.43,323.34 C431.38,324.86 431.31,326.37 431.22,327.89 C431.13,329.40 431.02,330.91 430.90,332.43 C430.77,333.94 430.63,335.46 430.47,336.97 C430.32,338.49 430.15,340.00 429.99,341.51 C429.82,343.03 429.64,344.54 429.46,346.06 C429.29,347.57 429.11,349.09 428.93,350.60 C428.76,352.11 428.59,353.63 428.43,355.14 C428.26,356.66 428.11,358.17 427.96,359.69 C427.81,361.20 427.67,362.71 427.55,364.23 C427.42,365.74 427.30,367.26 427.20,368.77 C427.09,370.29 427.00,371.80 426.91,373.31 C426.83,374.83 426.79,376.34 426.68,377.86 C426.58,379.37 426.36,381.64 426.30,382.40 L425.90,382.40 C425.84,381.64 425.62,379.37 425.52,377.86 C425.41,376.34 425.37,374.83 425.29,373.31 C425.20,371.80 425.11,370.29 425.00,368.77 C424.90,367.26 424.78,365.74 424.65,364.23 C424.53,362.71 424.39,361.20 424.24,359.69 C424.09,358.17 423.94,356.66 423.77,355.14 C423.61,353.63 423.44,352.11 423.27,350.60 C423.09,349.09 422.91,347.57 422.74,346.06 C422.56,344.54 422.38,343.03 422.21,341.51 C422.05,340.00 421.88,338.49 421.73,336.97 C421.57,335.46 421.43,333.94 421.30,332.43 C421.18,330.91 421.07,329.40 420.98,327.89 C420.89,326.37 420.82,324.86 420.77,323.34 C420.72,321.83 420.70,320.40 420.70,318.80 C420.70,317.20 420.73,315.45 420.79,313.77 C420.84,312.10 420.93,310.42 421.04,308.74 C421.14,307.07 421.28,305.39 421.43,303.71 C421.58,302.04 421.75,300.36 421.93,298.69 C422.11,297.01 422.30,295.33 422.49,293.66 C422.68,291.98 422.89,290.30 423.08,288.63 C423.27,286.95 423.47,285.28 423.65,283.60 C423.83,281.92 424.01,280.25 424.18,278.57 C424.34,276.90 424.50,275.22 424.64,273.54 C424.78,271.87 424.91,270.19 425.02,268.51 C425.14,266.84 425.24,265.16 425.33,263.49 C425.42,261.81 425.50,260.13 425.57,258.46 C425.64,256.78 425.69,255.10 425.75,253.43 C425.80,251.75 425.87,249.24 425.90,248.40 Z" fill="#fbf1f1" stroke="#666" stroke-width="0.55"/>
<line x1="426.1" y1="248.4" x2="426.1" y2="307.4" stroke="#444" stroke-width="0.7"/>
<line x1="426.1" y1="330.6" x2="426.1" y2="382.4" stroke="#444" stroke-width="0.7"/>
<rect x="423.8" y="307.4" width="4.600000000000023" height="23.200000000000045" fill="#edc9c9" stroke="#222" stroke-width="0.8"/>
<line x1="423.8" y1="318.5" x2="428.40000000000003" y2="318.5" stroke="#000" stroke-width="1.7"/>
<line x1="379.5" y1="309.6" x2="441.6" y2="309.6" stroke="#111" stroke-width="1.6" stroke-dasharray="3.2,2.8"/>
<text x="410.85" y="178.70" font-size="12.0" text-anchor="middle" fill="#111" stroke="#111" stroke-width="0.1" >AFR</text>
<line x1="395.5" y1="404.2" x2="395.5" y2="406.4" stroke="#333" stroke-width="0.7"/>
<text x="0.00" y="0.00" font-size="8.8" text-anchor="end" fill="#222" stroke="#222" stroke-width="0.3" transform="translate(398.6,412.0) rotate(-90)">ALL</text>
<line x1="410.6" y1="404.2" x2="410.6" y2="406.4" stroke="#333" stroke-width="0.7"/>
<text x="0.00" y="0.00" font-size="8.8" text-anchor="end" fill="#222" stroke="#222" stroke-width="0.3" transform="translate(413.70000000000005,412.0) rotate(-90)">EUR segments</text>
<line x1="426.1" y1="404.2" x2="426.1" y2="406.4" stroke="#333" stroke-width="0.7"/>
<text x="0.00" y="0.00" font-size="8.8" text-anchor="end" fill="#222" stroke="#222" stroke-width="0.3" transform="translate(429.20000000000005,412.0) rotate(-90)">EAS segments</text>
<path d="M456.80,230.00 C456.81,230.67 456.84,232.69 456.85,234.04 C456.86,235.38 456.85,236.73 456.85,238.07 C456.85,239.42 456.85,240.76 456.85,242.11 C456.85,243.45 456.82,244.80 456.85,246.14 C456.88,247.49 456.93,248.83 457.00,250.18 C457.08,251.52 457.17,252.87 457.29,254.21 C457.41,255.56 457.55,256.90 457.72,258.25 C457.88,259.60 458.07,260.94 458.29,262.29 C458.50,263.63 458.74,264.98 458.99,266.32 C459.24,267.67 459.52,269.01 459.79,270.36 C460.05,271.70 460.33,273.05 460.58,274.39 C460.83,275.74 461.07,277.08 461.27,278.43 C461.46,279.77 461.63,281.12 461.73,282.46 C461.84,283.81 461.89,285.26 461.90,286.50 C461.91,287.74 461.86,288.77 461.78,289.91 C461.70,291.04 461.58,292.18 461.44,293.31 C461.30,294.45 461.11,295.59 460.92,296.72 C460.73,297.86 460.51,298.99 460.29,300.13 C460.07,301.26 459.83,302.40 459.61,303.54 C459.38,304.67 459.15,305.81 458.94,306.94 C458.73,308.08 458.53,309.21 458.34,310.35 C458.16,311.49 457.99,312.62 457.84,313.76 C457.69,314.89 457.56,316.03 457.44,317.16 C457.33,318.30 457.23,319.44 457.15,320.57 C457.07,321.71 456.99,322.84 456.94,323.98 C456.89,325.11 456.87,326.25 456.85,327.39 C456.83,328.52 456.86,329.66 456.85,330.79 C456.84,331.93 456.81,333.63 456.80,334.20 L456.40,334.20 C456.39,333.63 456.36,331.93 456.35,330.79 C456.34,329.66 456.37,328.52 456.35,327.39 C456.33,326.25 456.31,325.11 456.26,323.98 C456.21,322.84 456.13,321.71 456.05,320.57 C455.97,319.44 455.87,318.30 455.76,317.16 C455.64,316.03 455.51,314.89 455.36,313.76 C455.21,312.62 455.04,311.49 454.86,310.35 C454.67,309.21 454.47,308.08 454.26,306.94 C454.05,305.81 453.82,304.67 453.59,303.54 C453.37,302.40 453.13,301.26 452.91,300.13 C452.69,298.99 452.47,297.86 452.28,296.72 C452.09,295.59 451.90,294.45 451.76,293.31 C451.62,292.18 451.50,291.04 451.42,289.91 C451.34,288.77 451.29,287.74 451.30,286.50 C451.31,285.26 451.36,283.81 451.47,282.46 C451.57,281.12 451.74,279.77 451.93,278.43 C452.13,277.08 452.37,275.74 452.62,274.39 C452.87,273.05 453.15,271.70 453.41,270.36 C453.68,269.01 453.96,267.67 454.21,266.32 C454.46,264.98 454.70,263.63 454.91,262.29 C455.13,260.94 455.32,259.60 455.48,258.25 C455.65,256.90 455.79,255.56 455.91,254.21 C456.03,252.87 456.12,251.52 456.20,250.18 C456.27,248.83 456.32,247.49 456.35,246.14 C456.38,244.80 456.35,243.45 456.35,242.11 C456.35,240.76 456.35,239.42 456.35,238.07 C456.35,236.73 456.34,235.38 456.35,234.04 C456.36,232.69 456.39,230.67 456.40,230.00 Z" fill="#f2e9a4" stroke="#666" stroke-width="0.55"/>
<line x1="456.6" y1="230.0" x2="456.6" y2="279.8" stroke="#444" stroke-width="0.7"/>
<line x1="456.6" y1="294.9" x2="456.6" y2="334.2" stroke="#444" stroke-width="0.7"/>
<rect x="454.3" y="279.8" width="4.600000000000023" height="15.099999999999966" fill="#e8c832" stroke="#222" stroke-width="0.8"/>
<line x1="454.3" y1="287.2" x2="458.90000000000003" y2="287.2" stroke="#000" stroke-width="1.7"/>
<path d="M472.20,201.00 C472.21,202.02 472.24,205.10 472.25,207.14 C472.26,209.19 472.24,211.24 472.25,213.29 C472.26,215.33 472.27,217.38 472.32,219.43 C472.37,221.48 472.45,223.52 472.53,225.57 C472.62,227.62 472.72,229.67 472.84,231.71 C472.96,233.76 473.10,235.81 473.26,237.86 C473.43,239.90 473.61,241.95 473.81,244.00 C474.02,246.05 474.24,248.10 474.48,250.14 C474.72,252.19 474.98,254.24 475.23,256.29 C475.49,258.33 475.76,260.38 476.01,262.43 C476.27,264.48 476.53,266.52 476.75,268.57 C476.98,270.62 477.19,272.67 477.36,274.71 C477.53,276.76 477.67,278.81 477.76,280.86 C477.85,282.90 477.89,285.14 477.90,287.00 C477.91,288.86 477.87,290.35 477.81,292.03 C477.74,293.70 477.65,295.38 477.53,297.06 C477.41,298.73 477.27,300.41 477.10,302.09 C476.94,303.76 476.75,305.44 476.56,307.11 C476.36,308.79 476.15,310.47 475.94,312.14 C475.73,313.82 475.51,315.50 475.30,317.17 C475.09,318.85 474.88,320.52 474.68,322.20 C474.48,323.88 474.28,325.55 474.10,327.23 C473.92,328.90 473.75,330.58 473.60,332.26 C473.44,333.93 473.30,335.61 473.18,337.29 C473.05,338.96 472.94,340.64 472.84,342.31 C472.74,343.99 472.65,345.67 472.58,347.34 C472.50,349.02 472.45,350.70 472.39,352.37 C472.32,354.05 472.23,356.56 472.20,357.40 L471.80,357.40 C471.77,356.56 471.68,354.05 471.61,352.37 C471.55,350.70 471.50,349.02 471.42,347.34 C471.35,345.67 471.26,343.99 471.16,342.31 C471.06,340.64 470.95,338.96 470.82,337.29 C470.70,335.61 470.56,333.93 470.40,332.26 C470.25,330.58 470.08,328.90 469.90,327.23 C469.72,325.55 469.52,323.88 469.32,322.20 C469.12,320.52 468.91,318.85 468.70,317.17 C468.49,315.50 468.27,313.82 468.06,312.14 C467.85,310.47 467.64,308.79 467.44,307.11 C467.25,305.44 467.06,303.76 466.90,302.09 C466.73,300.41 466.59,298.73 466.47,297.06 C466.35,295.38 466.26,293.70 466.19,292.03 C466.13,290.35 466.09,288.86 466.10,287.00 C466.11,285.14 466.15,282.90 466.24,280.86 C466.33,278.81 466.47,276.76 466.64,274.71 C466.81,272.67 467.02,270.62 467.25,268.57 C467.47,266.52 467.73,264.48 467.99,262.43 C468.24,260.38 468.51,258.33 468.77,256.29 C469.02,254.24 469.28,252.19 469.52,250.14 C469.76,248.10 469.98,246.05 470.19,244.00 C470.39,241.95 470.57,239.90 470.74,237.86 C470.90,235.81 471.04,233.76 471.16,231.71 C471.28,229.67 471.38,227.62 471.47,225.57 C471.55,223.52 471.63,221.48 471.68,219.43 C471.73,217.38 471.74,215.33 471.75,213.29 C471.76,211.24 471.74,209.19 471.75,207.14 C471.76,205.10 471.79,202.02 471.80,201.00 Z" fill="#fdfcef" stroke="#666" stroke-width="0.55"/>
<line x1="472.0" y1="201.0" x2="472.0" y2="273.3" stroke="#444" stroke-width="0.7"/>
<line x1="472.0" y1="299.6" x2="472.0" y2="357.4" stroke="#444" stroke-width="0.7"/>
<rect x="469.7" y="273.3" width="4.600000000000023" height="26.30000000000001" fill="#f8f4c8" stroke="#222" stroke-width="0.8"/>
<line x1="469.7" y1="287.0" x2="474.3" y2="287.0" stroke="#000" stroke-width="1.7"/>
<path d="M487.70,211.10 C487.71,212.00 487.72,214.70 487.75,216.51 C487.79,218.31 487.84,220.11 487.90,221.91 C487.96,223.72 488.03,225.52 488.12,227.32 C488.20,229.12 488.30,230.93 488.41,232.73 C488.53,234.53 488.66,236.33 488.80,238.14 C488.95,239.94 489.11,241.74 489.29,243.54 C489.47,245.35 489.66,247.15 489.87,248.95 C490.07,250.75 490.29,252.55 490.52,254.36 C490.74,256.16 490.97,257.96 491.20,259.76 C491.43,261.57 491.66,263.37 491.88,265.17 C492.09,266.97 492.31,268.78 492.49,270.58 C492.67,272.38 492.84,274.18 492.98,275.99 C493.11,277.79 493.22,279.59 493.29,281.39 C493.36,283.20 493.40,285.09 493.40,286.80 C493.40,288.51 493.37,290.05 493.31,291.67 C493.25,293.30 493.16,294.92 493.05,296.54 C492.94,298.17 492.80,299.79 492.65,301.41 C492.49,303.04 492.32,304.66 492.13,306.29 C491.95,307.91 491.74,309.53 491.54,311.16 C491.34,312.78 491.13,314.40 490.92,316.03 C490.72,317.65 490.51,319.28 490.31,320.90 C490.11,322.52 489.92,324.15 489.74,325.77 C489.56,327.40 489.39,329.02 489.23,330.64 C489.07,332.27 488.93,333.89 488.80,335.51 C488.67,337.14 488.55,338.76 488.45,340.39 C488.34,342.01 488.25,343.63 488.17,345.26 C488.09,346.88 488.04,348.50 487.96,350.13 C487.88,351.75 487.74,354.19 487.70,355.00 L487.30,355.00 C487.26,354.19 487.12,351.75 487.04,350.13 C486.96,348.50 486.91,346.88 486.83,345.26 C486.75,343.63 486.66,342.01 486.55,340.39 C486.45,338.76 486.33,337.14 486.20,335.51 C486.07,333.89 485.93,332.27 485.77,330.64 C485.61,329.02 485.44,327.40 485.26,325.77 C485.08,324.15 484.89,322.52 484.69,320.90 C484.49,319.28 484.28,317.65 484.08,316.03 C483.87,314.40 483.66,312.78 483.46,311.16 C483.26,309.53 483.05,307.91 482.87,306.29 C482.68,304.66 482.51,303.04 482.35,301.41 C482.20,299.79 482.06,298.17 481.95,296.54 C481.84,294.92 481.75,293.30 481.69,291.67 C481.63,290.05 481.60,288.51 481.60,286.80 C481.60,285.09 481.64,283.20 481.71,281.39 C481.78,279.59 481.89,277.79 482.02,275.99 C482.16,274.18 482.33,272.38 482.51,270.58 C482.69,268.78 482.91,266.97 483.12,265.17 C483.34,263.37 483.57,261.57 483.80,259.76 C484.03,257.96 484.26,256.16 484.48,254.36 C484.71,252.55 484.93,250.75 485.13,248.95 C485.34,247.15 485.53,245.35 485.71,243.54 C485.89,241.74 486.05,239.94 486.20,238.14 C486.34,236.33 486.47,234.53 486.59,232.73 C486.70,230.93 486.80,229.12 486.88,227.32 C486.97,225.52 487.04,223.72 487.10,221.91 C487.16,220.11 487.21,218.31 487.25,216.51 C487.28,214.70 487.29,212.00 487.30,211.10 Z" fill="#fdfcef" stroke="#666" stroke-width="0.55"/>
<line x1="487.5" y1="211.1" x2="487.5" y2="273.3" stroke="#444" stroke-width="0.7"/>
<line x1="487.5" y1="299.2" x2="487.5" y2="355.0" stroke="#444" stroke-width="0.7"/>
<rect x="485.2" y="273.3" width="4.600000000000023" height="25.899999999999977" fill="#f8f4c8" stroke="#222" stroke-width="0.8"/>
<line x1="485.2" y1="286.8" x2="489.8" y2="286.8" stroke="#000" stroke-width="1.7"/>
<line x1="442.6" y1="230.1" x2="502.8" y2="230.1" stroke="#111" stroke-width="1.6" stroke-dasharray="3.2,2.8"/>
<text x="471.95" y="178.70" font-size="12.0" text-anchor="middle" fill="#111" stroke="#111" stroke-width="0.1" >EUR</text>
<line x1="456.6" y1="404.2" x2="456.6" y2="406.4" stroke="#333" stroke-width="0.7"/>
<text x="0.00" y="0.00" font-size="8.8" text-anchor="end" fill="#222" stroke="#222" stroke-width="0.3" transform="translate(459.70000000000005,412.0) rotate(-90)">ALL</text>
<line x1="472.0" y1="404.2" x2="472.0" y2="406.4" stroke="#333" stroke-width="0.7"/>
<text x="0.00" y="0.00" font-size="8.8" text-anchor="end" fill="#222" stroke="#222" stroke-width="0.3" transform="translate(475.1,412.0) rotate(-90)">EUR segments</text>
<line x1="487.5" y1="404.2" x2="487.5" y2="406.4" stroke="#333" stroke-width="0.7"/>
<text x="0.00" y="0.00" font-size="8.8" text-anchor="end" fill="#222" stroke="#222" stroke-width="0.3" transform="translate(490.6,412.0) rotate(-90)">EAS segments</text>
<path d="M518.10,233.40 C518.11,233.97 518.14,235.68 518.15,236.81 C518.16,237.95 518.13,239.09 518.15,240.23 C518.17,241.37 518.20,242.50 518.26,243.64 C518.31,244.78 518.39,245.92 518.47,247.06 C518.56,248.20 518.66,249.33 518.79,250.47 C518.91,251.61 519.05,252.75 519.20,253.89 C519.36,255.02 519.54,256.16 519.74,257.30 C519.93,258.44 520.14,259.58 520.37,260.71 C520.59,261.85 520.83,262.99 521.07,264.13 C521.31,265.27 521.56,266.40 521.79,267.54 C522.02,268.68 522.26,269.82 522.46,270.96 C522.67,272.10 522.86,273.23 523.01,274.37 C523.16,275.51 523.29,276.65 523.37,277.79 C523.46,278.92 523.50,280.10 523.50,281.20 C523.50,282.30 523.46,283.33 523.39,284.40 C523.32,285.47 523.20,286.53 523.07,287.60 C522.93,288.67 522.76,289.73 522.58,290.80 C522.39,291.87 522.18,292.93 521.97,294.00 C521.75,295.07 521.52,296.13 521.30,297.20 C521.07,298.27 520.84,299.33 520.63,300.40 C520.41,301.47 520.20,302.53 520.00,303.60 C519.81,304.67 519.62,305.73 519.46,306.80 C519.29,307.87 519.14,308.93 519.01,310.00 C518.88,311.07 518.76,312.13 518.66,313.20 C518.56,314.27 518.47,315.33 518.40,316.40 C518.32,317.47 518.26,318.53 518.21,319.60 C518.17,320.67 518.17,321.73 518.15,322.80 C518.13,323.87 518.11,325.47 518.10,326.00 L517.70,326.00 C517.69,325.47 517.67,323.87 517.65,322.80 C517.63,321.73 517.63,320.67 517.59,319.60 C517.54,318.53 517.48,317.47 517.40,316.40 C517.33,315.33 517.24,314.27 517.14,313.20 C517.04,312.13 516.92,311.07 516.79,310.00 C516.66,308.93 516.51,307.87 516.34,306.80 C516.18,305.73 515.99,304.67 515.80,303.60 C515.60,302.53 515.39,301.47 515.17,300.40 C514.96,299.33 514.73,298.27 514.50,297.20 C514.28,296.13 514.05,295.07 513.83,294.00 C513.62,292.93 513.41,291.87 513.22,290.80 C513.04,289.73 512.87,288.67 512.73,287.60 C512.60,286.53 512.48,285.47 512.41,284.40 C512.34,283.33 512.30,282.30 512.30,281.20 C512.30,280.10 512.34,278.92 512.43,277.79 C512.51,276.65 512.64,275.51 512.79,274.37 C512.94,273.23 513.13,272.10 513.34,270.96 C513.54,269.82 513.78,268.68 514.01,267.54 C514.24,266.40 514.49,265.27 514.73,264.13 C514.97,262.99 515.21,261.85 515.43,260.71 C515.66,259.58 515.87,258.44 516.06,257.30 C516.26,256.16 516.44,255.02 516.60,253.89 C516.75,252.75 516.89,251.61 517.01,250.47 C517.14,249.33 517.24,248.20 517.33,247.06 C517.41,245.92 517.49,244.78 517.54,243.64 C517.60,242.50 517.63,241.37 517.65,240.23 C517.67,239.09 517.64,237.95 517.65,236.81 C517.66,235.68 517.69,233.97 517.70,233.40 Z" fill="#9cdcb8" stroke="#666" stroke-width="0.55"/>
<line x1="517.9" y1="233.4" x2="517.9" y2="272.9" stroke="#444" stroke-width="0.7"/>
<line x1="517.9" y1="289.4" x2="517.9" y2="326.0" stroke="#444" stroke-width="0.7"/>
<rect x="515.6" y="272.9" width="4.599999999999909" height="16.5" fill="#3cb464" stroke="#222" stroke-width="0.8"/>
<line x1="515.6" y1="281.2" x2="520.1999999999999" y2="281.2" stroke="#000" stroke-width="1.7"/>
<path d="M533.60,197.20 C533.61,198.18 533.64,201.13 533.65,203.09 C533.66,205.06 533.62,207.02 533.65,208.99 C533.68,210.95 533.74,212.91 533.80,214.88 C533.87,216.84 533.95,218.81 534.04,220.77 C534.14,222.74 534.25,224.70 534.38,226.66 C534.51,228.63 534.66,230.59 534.83,232.56 C535.00,234.52 535.19,236.49 535.39,238.45 C535.60,240.41 535.83,242.38 536.06,244.34 C536.29,246.31 536.54,248.27 536.79,250.24 C537.04,252.20 537.30,254.16 537.54,256.13 C537.78,258.09 538.02,260.06 538.23,262.02 C538.44,263.99 538.64,265.95 538.80,267.91 C538.96,269.88 539.09,271.84 539.17,273.81 C539.25,275.77 539.30,277.70 539.30,279.70 C539.30,281.70 539.26,283.78 539.18,285.82 C539.10,287.86 538.98,289.90 538.83,291.94 C538.68,293.98 538.49,296.02 538.29,298.06 C538.09,300.10 537.86,302.15 537.63,304.19 C537.40,306.23 537.15,308.27 536.91,310.31 C536.67,312.35 536.42,314.39 536.19,316.43 C535.96,318.47 535.73,320.51 535.53,322.55 C535.32,324.59 535.13,326.63 534.96,328.67 C534.78,330.71 534.63,332.75 534.49,334.79 C534.36,336.83 534.24,338.87 534.14,340.91 C534.03,342.95 533.95,345.00 533.88,347.04 C533.80,349.08 533.73,351.12 533.69,353.16 C533.66,355.20 533.67,357.24 533.65,359.28 C533.63,361.32 533.61,364.38 533.60,365.40 L533.20,365.40 C533.19,364.38 533.17,361.32 533.15,359.28 C533.13,357.24 533.14,355.20 533.11,353.16 C533.07,351.12 533.00,349.08 532.92,347.04 C532.85,345.00 532.77,342.95 532.66,340.91 C532.56,338.87 532.44,336.83 532.31,334.79 C532.17,332.75 532.02,330.71 531.84,328.67 C531.67,326.63 531.48,324.59 531.27,322.55 C531.07,320.51 530.84,318.47 530.61,316.43 C530.38,314.39 530.13,312.35 529.89,310.31 C529.65,308.27 529.40,306.23 529.17,304.19 C528.94,302.15 528.71,300.10 528.51,298.06 C528.31,296.02 528.12,293.98 527.97,291.94 C527.82,289.90 527.70,287.86 527.62,285.82 C527.54,283.78 527.50,281.70 527.50,279.70 C527.50,277.70 527.55,275.77 527.63,273.81 C527.71,271.84 527.84,269.88 528.00,267.91 C528.16,265.95 528.36,263.99 528.57,262.02 C528.78,260.06 529.02,258.09 529.26,256.13 C529.50,254.16 529.76,252.20 530.01,250.24 C530.26,248.27 530.51,246.31 530.74,244.34 C530.97,242.38 531.20,240.41 531.41,238.45 C531.61,236.49 531.80,234.52 531.97,232.56 C532.14,230.59 532.29,228.63 532.42,226.66 C532.55,224.70 532.66,222.74 532.76,220.77 C532.85,218.81 532.93,216.84 533.00,214.88 C533.06,212.91 533.12,210.95 533.15,208.99 C533.18,207.02 533.14,205.06 533.15,203.09 C533.16,201.13 533.19,198.18 533.20,197.20 Z" fill="#effaf3" stroke="#666" stroke-width="0.55"/>
<line x1="533.4" y1="197.2" x2="533.4" y2="265.2" stroke="#444" stroke-width="0.7"/>
<line x1="533.4" y1="294.4" x2="533.4" y2="365.4" stroke="#444" stroke-width="0.7"/>
<rect x="531.1" y="265.2" width="4.599999999999909" height="29.19999999999999" fill="#c4f0d8" stroke="#222" stroke-width="0.8"/>
<line x1="531.1" y1="279.7" x2="535.6999999999999" y2="279.7" stroke="#000" stroke-width="1.7"/>
<path d="M548.70,199.30 C548.71,200.26 548.74,203.14 548.75,205.06 C548.76,206.99 548.74,208.91 548.78,210.83 C548.81,212.75 548.88,214.67 548.95,216.59 C549.03,218.51 549.11,220.44 549.21,222.36 C549.31,224.28 549.43,226.20 549.56,228.12 C549.70,230.04 549.85,231.96 550.02,233.89 C550.19,235.81 550.38,237.73 550.59,239.65 C550.79,241.57 551.02,243.49 551.25,245.41 C551.48,247.34 551.73,249.26 551.97,251.18 C552.22,253.10 552.47,255.02 552.70,256.94 C552.94,258.86 553.17,260.79 553.38,262.71 C553.58,264.63 553.77,266.55 553.92,268.47 C554.07,270.39 554.20,272.31 554.28,274.24 C554.36,276.16 554.40,277.96 554.40,280.00 C554.40,282.04 554.35,284.31 554.26,286.47 C554.18,288.63 554.04,290.79 553.88,292.94 C553.71,295.10 553.50,297.26 553.29,299.41 C553.07,301.57 552.81,303.73 552.57,305.89 C552.32,308.04 552.05,310.20 551.80,312.36 C551.55,314.51 551.29,316.67 551.05,318.83 C550.82,320.99 550.59,323.14 550.39,325.30 C550.18,327.46 550.00,329.61 549.83,331.77 C549.67,333.93 549.52,336.09 549.40,338.24 C549.27,340.40 549.17,342.56 549.08,344.71 C548.99,346.87 548.91,349.03 548.85,351.19 C548.80,353.34 548.77,355.50 548.75,357.66 C548.73,359.81 548.76,361.97 548.75,364.13 C548.74,366.29 548.71,369.52 548.70,370.60 L548.30,370.60 C548.29,369.52 548.26,366.29 548.25,364.13 C548.24,361.97 548.27,359.81 548.25,357.66 C548.23,355.50 548.20,353.34 548.15,351.19 C548.09,349.03 548.01,346.87 547.92,344.71 C547.83,342.56 547.73,340.40 547.60,338.24 C547.48,336.09 547.33,333.93 547.17,331.77 C547.00,329.61 546.82,327.46 546.61,325.30 C546.41,323.14 546.18,320.99 545.95,318.83 C545.71,316.67 545.45,314.51 545.20,312.36 C544.95,310.20 544.68,308.04 544.43,305.89 C544.19,303.73 543.93,301.57 543.71,299.41 C543.50,297.26 543.29,295.10 543.12,292.94 C542.96,290.79 542.82,288.63 542.74,286.47 C542.65,284.31 542.60,282.04 542.60,280.00 C542.60,277.96 542.64,276.16 542.72,274.24 C542.80,272.31 542.93,270.39 543.08,268.47 C543.23,266.55 543.42,264.63 543.62,262.71 C543.83,260.79 544.06,258.86 544.30,256.94 C544.53,255.02 544.78,253.10 545.03,251.18 C545.27,249.26 545.52,247.34 545.75,245.41 C545.98,243.49 546.21,241.57 546.41,239.65 C546.62,237.73 546.81,235.81 546.98,233.89 C547.15,231.96 547.30,230.04 547.44,228.12 C547.57,226.20 547.69,224.28 547.79,222.36 C547.89,220.44 547.97,218.51 548.05,216.59 C548.12,214.67 548.19,212.75 548.22,210.83 C548.26,208.91 548.24,206.99 548.25,205.06 C548.26,203.14 548.29,200.26 548.30,199.30 Z" fill="#effaf3" stroke="#666" stroke-width="0.55"/>
<line x1="548.5" y1="199.3" x2="548.5" y2="265.2" stroke="#444" stroke-width="0.7"/>
<line x1="548.5" y1="294.4" x2="548.5" y2="370.6" stroke="#444" stroke-width="0.7"/>
<rect x="546.2" y="265.2" width="4.599999999999909" height="29.19999999999999" fill="#c4f0d8" stroke="#222" stroke-width="0.8"/>
<line x1="546.2" y1="280.0" x2="550.8" y2="280.0" stroke="#000" stroke-width="1.7"/>
<line x1="503.8" y1="240.8" x2="563.6" y2="240.8" stroke="#111" stroke-width="1.6" stroke-dasharray="3.2,2.8"/>
<text x="533.20" y="178.70" font-size="12.0" text-anchor="middle" fill="#111" stroke="#111" stroke-width="0.1" >EAS</text>
<line x1="517.9" y1="404.2" x2="517.9" y2="406.4" stroke="#333" stroke-width="0.7"/>
<text x="0.00" y="0.00" font-size="8.8" text-anchor="end" fill="#222" stroke="#222" stroke-width="0.3" transform="translate(521.0,412.0) rotate(-90)">ALL</text>
<line x1="533.4" y1="404.2" x2="533.4" y2="406.4" stroke="#333" stroke-width="0.7"/>
<text x="0.00" y="0.00" font-size="8.8" text-anchor="end" fill="#222" stroke="#222" stroke-width="0.3" transform="translate(536.5,412.0) rotate(-90)">EUR segments</text>
<line x1="548.5" y1="404.2" x2="548.5" y2="406.4" stroke="#333" stroke-width="0.7"/>
<text x="0.00" y="0.00" font-size="8.8" text-anchor="end" fill="#222" stroke="#222" stroke-width="0.3" transform="translate(551.6,412.0) rotate(-90)">EAS segments</text>
<path d="M579.60,238.00 C579.61,238.61 579.64,240.45 579.65,241.68 C579.66,242.90 579.65,244.13 579.65,245.36 C579.65,246.58 579.62,247.81 579.65,249.04 C579.68,250.26 579.74,251.49 579.81,252.71 C579.88,253.94 579.96,255.17 580.07,256.39 C580.18,257.62 580.30,258.85 580.45,260.07 C580.60,261.30 580.77,262.52 580.96,263.75 C581.15,264.98 581.37,266.20 581.60,267.43 C581.83,268.65 582.09,269.88 582.34,271.11 C582.60,272.33 582.88,273.56 583.13,274.79 C583.39,276.01 583.66,277.24 583.89,278.46 C584.13,279.69 584.35,280.92 584.53,282.14 C584.70,283.37 584.86,284.60 584.95,285.82 C585.05,287.05 585.09,288.37 585.10,289.50 C585.11,290.63 585.06,291.58 584.99,292.62 C584.92,293.66 584.81,294.70 584.68,295.74 C584.55,296.78 584.38,297.82 584.20,298.86 C584.02,299.90 583.81,300.95 583.60,301.99 C583.39,303.03 583.16,304.07 582.94,305.11 C582.72,306.15 582.49,307.19 582.27,308.23 C582.06,309.27 581.84,310.31 581.64,311.35 C581.45,312.39 581.26,313.43 581.09,314.47 C580.92,315.51 580.76,316.55 580.62,317.59 C580.48,318.63 580.36,319.67 580.25,320.71 C580.14,321.75 580.05,322.80 579.97,323.84 C579.89,324.88 579.82,325.92 579.77,326.96 C579.71,328.00 579.68,329.04 579.65,330.08 C579.62,331.12 579.61,332.68 579.60,333.20 L579.20,333.20 C579.19,332.68 579.18,331.12 579.15,330.08 C579.12,329.04 579.09,328.00 579.03,326.96 C578.98,325.92 578.91,324.88 578.83,323.84 C578.75,322.80 578.66,321.75 578.55,320.71 C578.44,319.67 578.32,318.63 578.18,317.59 C578.04,316.55 577.88,315.51 577.71,314.47 C577.54,313.43 577.35,312.39 577.16,311.35 C576.96,310.31 576.74,309.27 576.53,308.23 C576.31,307.19 576.08,306.15 575.86,305.11 C575.64,304.07 575.41,303.03 575.20,301.99 C574.99,300.95 574.78,299.90 574.60,298.86 C574.42,297.82 574.25,296.78 574.12,295.74 C573.99,294.70 573.88,293.66 573.81,292.62 C573.74,291.58 573.69,290.63 573.70,289.50 C573.71,288.37 573.75,287.05 573.85,285.82 C573.94,284.60 574.10,283.37 574.27,282.14 C574.45,280.92 574.67,279.69 574.91,278.46 C575.14,277.24 575.41,276.01 575.67,274.79 C575.92,273.56 576.20,272.33 576.46,271.11 C576.71,269.88 576.97,268.65 577.20,267.43 C577.43,266.20 577.65,264.98 577.84,263.75 C578.03,262.52 578.20,261.30 578.35,260.07 C578.50,258.85 578.62,257.62 578.73,256.39 C578.84,255.17 578.92,253.94 578.99,252.71 C579.06,251.49 579.12,250.26 579.15,249.04 C579.18,247.81 579.15,246.58 579.15,245.36 C579.15,244.13 579.14,242.90 579.15,241.68 C579.16,240.45 579.19,238.61 579.20,238.00 Z" fill="#a9c4e8" stroke="#666" stroke-width="0.55"/>
<line x1="579.4" y1="238.0" x2="579.4" y2="282.1" stroke="#444" stroke-width="0.7"/>
<line x1="579.4" y1="297.3" x2="579.4" y2="333.2" stroke="#444" stroke-width="0.7"/>
<rect x="577.1" y="282.1" width="4.599999999999909" height="15.199999999999989" fill="#3a6ec8" stroke="#222" stroke-width="0.8"/>
<line x1="577.1" y1="289.8" x2="581.6999999999999" y2="289.8" stroke="#000" stroke-width="1.7"/>
<path d="M594.50,206.10 C594.51,207.09 594.54,210.07 594.55,212.06 C594.56,214.04 594.53,216.03 594.55,218.01 C594.57,220.00 594.62,221.99 594.68,223.97 C594.74,225.96 594.82,227.94 594.91,229.93 C595.01,231.91 595.11,233.90 595.24,235.89 C595.37,237.87 595.52,239.86 595.69,241.84 C595.85,243.83 596.04,245.81 596.25,247.80 C596.45,249.79 596.68,251.77 596.91,253.76 C597.15,255.74 597.40,257.73 597.65,259.71 C597.90,261.70 598.16,263.69 598.41,265.67 C598.65,267.66 598.90,269.64 599.11,271.63 C599.33,273.61 599.53,275.60 599.69,277.59 C599.85,279.57 599.98,281.56 600.07,283.54 C600.15,285.53 600.19,287.65 600.20,289.50 C600.21,291.35 600.17,292.94 600.10,294.66 C600.04,296.38 599.94,298.10 599.81,299.81 C599.69,301.53 599.53,303.25 599.36,304.97 C599.20,306.69 599.00,308.41 598.80,310.13 C598.60,311.85 598.38,313.57 598.16,315.29 C597.95,317.00 597.72,318.72 597.50,320.44 C597.29,322.16 597.07,323.88 596.87,325.60 C596.67,327.32 596.47,329.04 596.29,330.76 C596.11,332.48 595.95,334.20 595.79,335.91 C595.64,337.63 595.50,339.35 595.38,341.07 C595.26,342.79 595.15,344.51 595.06,346.23 C594.96,347.95 594.88,349.67 594.81,351.39 C594.74,353.10 594.69,354.82 594.64,356.54 C594.58,358.26 594.52,360.84 594.50,361.70 L594.10,361.70 C594.08,360.84 594.02,358.26 593.96,356.54 C593.91,354.82 593.86,353.10 593.79,351.39 C593.72,349.67 593.64,347.95 593.54,346.23 C593.45,344.51 593.34,342.79 593.22,341.07 C593.10,339.35 592.96,337.63 592.81,335.91 C592.65,334.20 592.49,332.48 592.31,330.76 C592.13,329.04 591.93,327.32 591.73,325.60 C591.53,323.88 591.31,322.16 591.10,320.44 C590.88,318.72 590.65,317.00 590.44,315.29 C590.22,313.57 590.00,311.85 589.80,310.13 C589.60,308.41 589.40,306.69 589.24,304.97 C589.07,303.25 588.91,301.53 588.79,299.81 C588.66,298.10 588.56,296.38 588.50,294.66 C588.43,292.94 588.39,291.35 588.40,289.50 C588.41,287.65 588.45,285.53 588.53,283.54 C588.62,281.56 588.75,279.57 588.91,277.59 C589.07,275.60 589.27,273.61 589.49,271.63 C589.70,269.64 589.95,267.66 590.19,265.67 C590.44,263.69 590.70,261.70 590.95,259.71 C591.20,257.73 591.45,255.74 591.69,253.76 C591.92,251.77 592.15,249.79 592.35,247.80 C592.56,245.81 592.75,243.83 592.91,241.84 C593.08,239.86 593.23,237.87 593.36,235.89 C593.49,233.90 593.59,231.91 593.69,229.93 C593.78,227.94 593.86,225.96 593.92,223.97 C593.98,221.99 594.03,220.00 594.05,218.01 C594.07,216.03 594.04,214.04 594.05,212.06 C594.06,210.07 594.09,207.09 594.10,206.10 Z" fill="#f1f5fc" stroke="#666" stroke-width="0.55"/>
<line x1="594.3" y1="206.1" x2="594.3" y2="276.1" stroke="#444" stroke-width="0.7"/>
<line x1="594.3" y1="302.5" x2="594.3" y2="361.7" stroke="#444" stroke-width="0.7"/>
<rect x="592.0" y="276.1" width="4.599999999999909" height="26.399999999999977" fill="#c9ddf4" stroke="#222" stroke-width="0.8"/>
<line x1="592.0" y1="289.5" x2="596.5999999999999" y2="289.5" stroke="#000" stroke-width="1.7"/>
<path d="M609.80,204.10 C609.81,205.11 609.84,208.15 609.85,210.18 C609.86,212.20 609.83,214.23 609.85,216.26 C609.87,218.28 609.89,220.31 609.94,222.34 C609.99,224.36 610.07,226.39 610.16,228.41 C610.25,230.44 610.35,232.47 610.47,234.49 C610.60,236.52 610.74,238.55 610.91,240.57 C611.07,242.60 611.26,244.62 611.46,246.65 C611.66,248.68 611.89,250.70 612.13,252.73 C612.36,254.75 612.62,256.78 612.87,258.81 C613.13,260.83 613.40,262.86 613.65,264.89 C613.90,266.91 614.15,268.94 614.37,270.96 C614.59,272.99 614.80,275.02 614.97,277.04 C615.13,279.07 615.27,281.10 615.36,283.12 C615.45,285.15 615.49,287.38 615.50,289.20 C615.51,291.02 615.47,292.45 615.41,294.07 C615.35,295.70 615.26,297.32 615.15,298.94 C615.04,300.57 614.90,302.19 614.75,303.81 C614.59,305.44 614.42,307.06 614.23,308.69 C614.05,310.31 613.84,311.93 613.64,313.56 C613.44,315.18 613.23,316.80 613.02,318.43 C612.82,320.05 612.61,321.68 612.41,323.30 C612.21,324.92 612.02,326.55 611.84,328.17 C611.66,329.80 611.49,331.42 611.33,333.04 C611.17,334.67 611.03,336.29 610.90,337.91 C610.77,339.54 610.65,341.16 610.55,342.79 C610.44,344.41 610.35,346.03 610.27,347.66 C610.19,349.28 610.14,350.90 610.06,352.53 C609.98,354.15 609.84,356.59 609.80,357.40 L609.40,357.40 C609.36,356.59 609.22,354.15 609.14,352.53 C609.06,350.90 609.01,349.28 608.93,347.66 C608.85,346.03 608.76,344.41 608.65,342.79 C608.55,341.16 608.43,339.54 608.30,337.91 C608.17,336.29 608.03,334.67 607.87,333.04 C607.71,331.42 607.54,329.80 607.36,328.17 C607.18,326.55 606.99,324.92 606.79,323.30 C606.59,321.68 606.38,320.05 606.18,318.43 C605.97,316.80 605.76,315.18 605.56,313.56 C605.36,311.93 605.15,310.31 604.97,308.69 C604.78,307.06 604.61,305.44 604.45,303.81 C604.30,302.19 604.16,300.57 604.05,298.94 C603.94,297.32 603.85,295.70 603.79,294.07 C603.73,292.45 603.69,291.02 603.70,289.20 C603.71,287.38 603.75,285.15 603.84,283.12 C603.93,281.10 604.07,279.07 604.23,277.04 C604.40,275.02 604.61,272.99 604.83,270.96 C605.05,268.94 605.30,266.91 605.55,264.89 C605.80,262.86 606.07,260.83 606.33,258.81 C606.58,256.78 606.84,254.75 607.07,252.73 C607.31,250.70 607.54,248.68 607.74,246.65 C607.94,244.62 608.13,242.60 608.29,240.57 C608.46,238.55 608.60,236.52 608.73,234.49 C608.85,232.47 608.95,230.44 609.04,228.41 C609.13,226.39 609.21,224.36 609.26,222.34 C609.31,220.31 609.33,218.28 609.35,216.26 C609.37,214.23 609.34,212.20 609.35,210.18 C609.36,208.15 609.39,205.11 609.40,204.10 Z" fill="#f1f5fc" stroke="#666" stroke-width="0.55"/>
<line x1="609.6" y1="204.1" x2="609.6" y2="275.6" stroke="#444" stroke-width="0.7"/>
<line x1="609.6" y1="302.1" x2="609.6" y2="357.4" stroke="#444" stroke-width="0.7"/>
<rect x="607.3000000000001" y="275.6" width="4.599999999999909" height="26.5" fill="#c9ddf4" stroke="#222" stroke-width="0.8"/>
<line x1="607.3000000000001" y1="289.2" x2="611.9" y2="289.2" stroke="#000" stroke-width="1.7"/>
<line x1="564.6" y1="246.7" x2="626.4" y2="246.7" stroke="#111" stroke-width="1.6" stroke-dasharray="3.2,2.8"/>
<text x="594.25" y="178.70" font-size="12.0" text-anchor="middle" fill="#111" stroke="#111" stroke-width="0.1" >SAS</text>
<line x1="579.4" y1="404.2" x2="579.4" y2="406.4" stroke="#333" stroke-width="0.7"/>
<text x="0.00" y="0.00" font-size="8.8" text-anchor="end" fill="#222" stroke="#222" stroke-width="0.3" transform="translate(582.5,412.0) rotate(-90)">ALL</text>
<line x1="594.3" y1="404.2" x2="594.3" y2="406.4" stroke="#333" stroke-width="0.7"/>
<text x="0.00" y="0.00" font-size="8.8" text-anchor="end" fill="#222" stroke="#222" stroke-width="0.3" transform="translate(597.4,412.0) rotate(-90)">EUR segments</text>
<line x1="609.6" y1="404.2" x2="609.6" y2="406.4" stroke="#333" stroke-width="0.7"/>
<text x="0.00" y="0.00" font-size="8.8" text-anchor="end" fill="#222" stroke="#222" stroke-width="0.3" transform="translate(612.7,412.0) rotate(-90)">EAS segments</text>
<line x1="441.6" y1="185.3" x2="441.6" y2="404.2" stroke="#aaa" stroke-width="0.8"/>
<line x1="502.8" y1="185.3" x2="502.8" y2="404.2" stroke="#aaa" stroke-width="0.8"/>
<line x1="563.6" y1="185.3" x2="563.6" y2="404.2" stroke="#aaa" stroke-width="0.8"/>
<rect x="378.5" y="185.3" width="247.89999999999998" height="218.89999999999998" fill="none" stroke="#333" stroke-width="1"/>
</svg>
</body></html>
